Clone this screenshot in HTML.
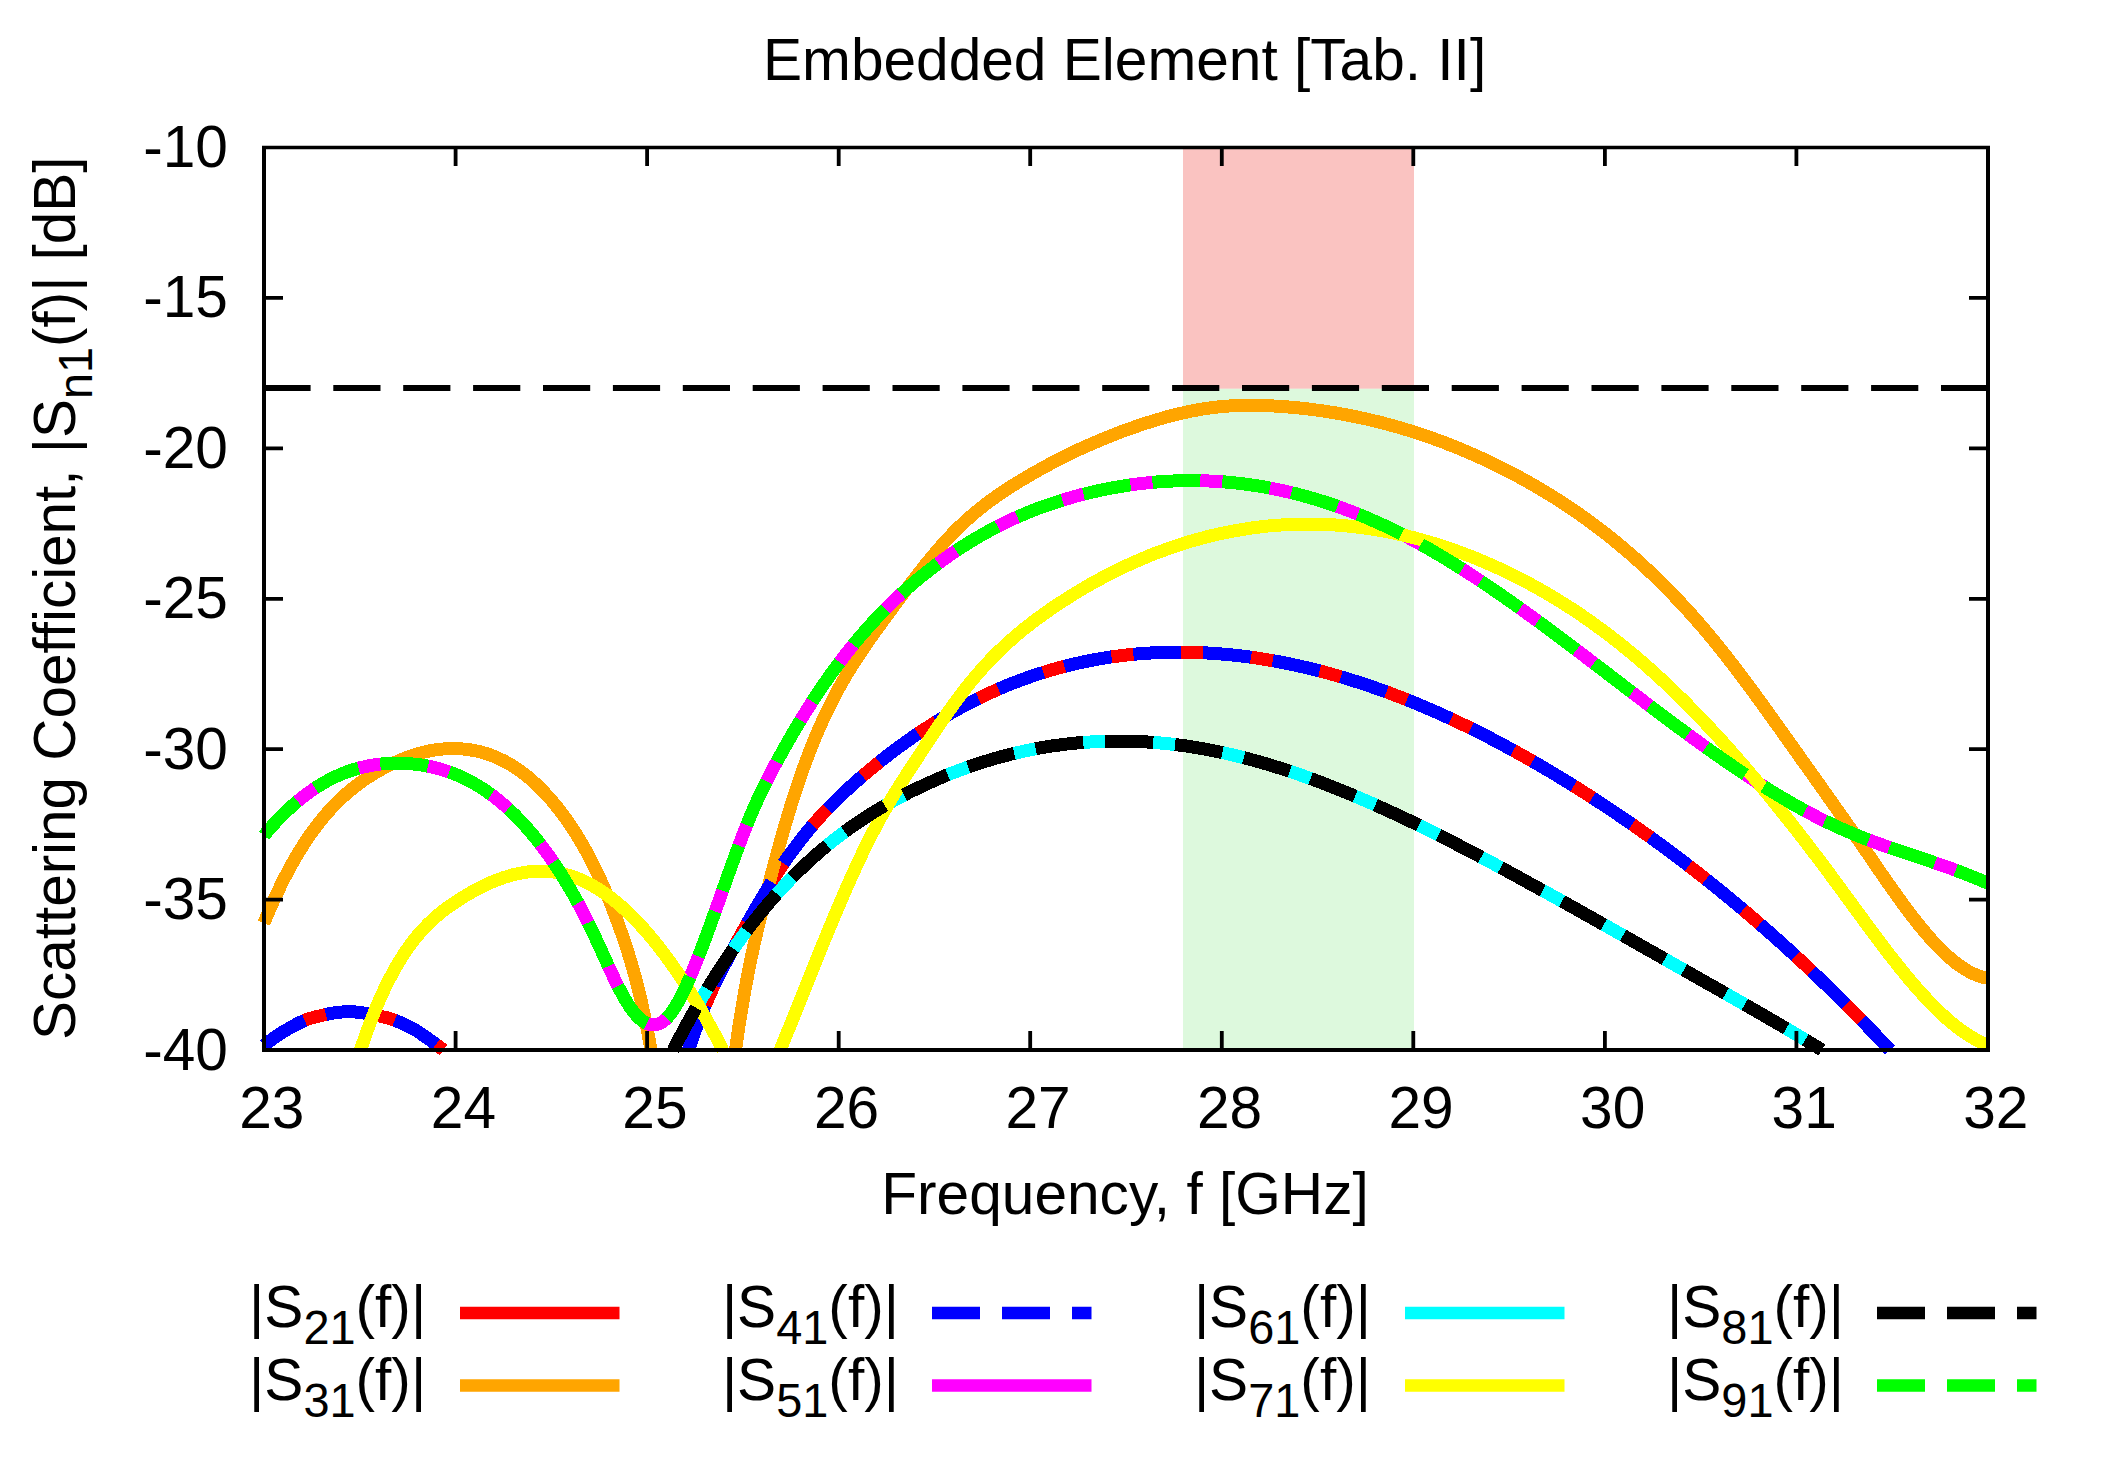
<!DOCTYPE html>
<html><head><meta charset="utf-8"><title>Embedded Element [Tab. II]</title>
<style>
html,body{margin:0;padding:0;background:#fff;}
svg{display:block}
text{font-family:"Liberation Sans",sans-serif;fill:#000;}
</style></head><body>
<svg width="2110" height="1463" viewBox="0 0 2110 1463">
<rect width="2110" height="1463" fill="#fff"/>

<rect x="1183" y="148" width="231" height="240.8" fill="#fac3c1"/>
<rect x="1183" y="388.8" width="231" height="661.2" fill="#ddf9dd"/>
<defs><clipPath id="plotclip"><rect x="258" y="140" width="1732" height="916"/></clipPath></defs>
<g fill="none" stroke-linejoin="round" shape-rendering="crispEdges" clip-path="url(#plotclip)">
<path d="M264.0,1045.5 L267.0,1043.1 L270.0,1040.8 L273.0,1038.6 L276.0,1036.5 L279.0,1034.4 L282.0,1032.5 L285.0,1030.7 L288.0,1029.0 L291.0,1027.3 L294.0,1025.6 L297.0,1024.0 L300.0,1022.5 L303.0,1021.1 L306.0,1019.8 L309.0,1018.7 L312.0,1017.9 L315.0,1017.1 L318.0,1016.3 L321.0,1015.6 L324.0,1014.9 L327.0,1014.2 L330.0,1013.6 L333.0,1013.1 L336.0,1012.6 L339.0,1012.3 L342.0,1012.0 L345.0,1011.8 L348.0,1011.7 L351.0,1011.7 L354.0,1011.9 L357.0,1012.1 L360.0,1012.5 L363.0,1012.9 L366.0,1013.4 L369.0,1013.9 L372.0,1014.5 L375.0,1015.1 L378.0,1015.7 L381.0,1016.4 L384.0,1017.1 L387.0,1017.8 L390.0,1018.7 L393.0,1019.6 L396.0,1020.8 L399.0,1022.0 L402.0,1023.3 L405.0,1024.6 L408.0,1026.1 L411.0,1027.6 L414.0,1029.2 L417.0,1031.0 L420.0,1033.0 L423.0,1035.1 L426.0,1037.2 L429.0,1039.3 L432.0,1041.4 L435.0,1043.6 L438.0,1045.8 L441.0,1048.1 L443.5,1050.0" stroke="#ff0000" stroke-width="13"/>
<path d="M688.5,1050.0 L691.5,1041.1 L694.5,1032.5 L697.5,1024.4 L700.5,1016.7 L703.5,1009.3 L706.5,1002.3 L709.5,995.5 L712.5,989.0 L715.5,982.7 L718.5,976.6 L721.5,970.7 L724.5,964.9 L727.5,959.3 L730.5,953.7 L733.5,948.2 L736.5,942.7 L739.5,937.3 L742.5,931.9 L745.5,926.5 L748.5,921.1 L751.5,915.8 L754.5,910.6 L757.5,905.4 L760.5,900.3 L763.5,895.2 L766.5,890.2 L769.5,885.3 L772.5,880.5 L775.5,875.7 L778.5,871.1 L781.5,866.5 L784.5,862.1 L787.5,857.7 L790.5,853.5 L793.5,849.4 L796.5,845.4 L799.5,841.4 L802.5,837.6 L805.5,833.9 L808.5,830.2 L811.5,826.6 L814.5,823.2 L817.5,819.8 L820.5,816.4 L823.5,813.2 L826.5,810.0 L829.5,806.9 L832.5,803.8 L835.5,800.8 L838.5,797.9 L841.5,795.0 L844.5,792.2 L847.5,789.4 L850.5,786.6 L853.5,783.9 L856.5,781.3 L859.5,778.6 L862.5,776.1 L865.5,773.5 L868.5,771.0 L871.5,768.5 L874.5,766.0 L877.5,763.6 L880.5,761.2 L883.5,758.8 L886.5,756.4 L889.5,754.1 L892.5,751.8 L895.5,749.6 L898.5,747.3 L901.5,745.1 L904.5,743.0 L907.5,740.8 L910.5,738.7 L913.5,736.6 L916.5,734.6 L919.5,732.6 L922.5,730.6 L925.5,728.6 L928.5,726.7 L931.5,724.7 L934.5,722.9 L937.5,721.0 L940.5,719.2 L943.5,717.4 L946.5,715.6 L949.5,713.9 L952.5,712.1 L955.5,710.4 L958.5,708.8 L961.5,707.1 L964.5,705.5 L967.5,703.9 L970.5,702.4 L973.5,700.9 L976.5,699.3 L979.5,697.9 L982.5,696.4 L985.5,695.0 L988.5,693.6 L991.5,692.2 L994.5,690.9 L997.5,689.5 L1000.5,688.2 L1003.5,687.0 L1006.5,685.7 L1009.5,684.5 L1012.5,683.3 L1015.5,682.1 L1018.5,681.0 L1021.5,679.9 L1024.5,678.8 L1027.5,677.7 L1030.5,676.6 L1033.5,675.6 L1036.5,674.6 L1039.5,673.6 L1042.5,672.7 L1045.5,671.7 L1048.5,670.8 L1051.5,669.9 L1054.5,669.1 L1057.5,668.2 L1060.5,667.4 L1063.5,666.6 L1066.5,665.8 L1069.5,665.1 L1072.5,664.4 L1075.5,663.7 L1078.5,663.0 L1081.5,662.3 L1084.5,661.7 L1087.5,661.1 L1090.5,660.5 L1093.5,659.9 L1096.5,659.4 L1099.5,658.8 L1102.5,658.3 L1105.5,657.8 L1108.5,657.4 L1111.5,656.9 L1114.5,656.5 L1117.5,656.1 L1120.5,655.7 L1123.5,655.3 L1126.5,655.0 L1129.5,654.7 L1132.5,654.4 L1135.5,654.1 L1138.5,653.8 L1141.5,653.6 L1144.5,653.4 L1147.5,653.2 L1150.5,653.0 L1153.5,652.8 L1156.5,652.7 L1159.5,652.5 L1162.5,652.4 L1165.5,652.3 L1168.5,652.3 L1171.5,652.2 L1174.5,652.2 L1177.5,652.2 L1180.5,652.2 L1183.5,652.2 L1186.5,652.2 L1189.5,652.3 L1192.5,652.4 L1195.5,652.5 L1198.5,652.6 L1201.5,652.7 L1204.5,652.8 L1207.5,653.0 L1210.5,653.2 L1213.5,653.4 L1216.5,653.6 L1219.5,653.8 L1222.5,654.1 L1225.5,654.3 L1228.5,654.6 L1231.5,654.9 L1234.5,655.2 L1237.5,655.5 L1240.5,655.9 L1243.5,656.3 L1246.5,656.6 L1249.5,657.0 L1252.5,657.5 L1255.5,657.9 L1258.5,658.3 L1261.5,658.8 L1264.5,659.3 L1267.5,659.8 L1270.5,660.3 L1273.5,660.8 L1276.5,661.4 L1279.5,661.9 L1282.5,662.5 L1285.5,663.1 L1288.5,663.7 L1291.5,664.3 L1294.5,665.0 L1297.5,665.6 L1300.5,666.3 L1303.5,667.0 L1306.5,667.7 L1309.5,668.4 L1312.5,669.1 L1315.5,669.9 L1318.5,670.7 L1321.5,671.4 L1324.5,672.2 L1327.5,673.0 L1330.5,673.9 L1333.5,674.7 L1336.5,675.6 L1339.5,676.4 L1342.5,677.3 L1345.5,678.2 L1348.5,679.1 L1351.5,680.1 L1354.5,681.0 L1357.5,682.0 L1360.5,682.9 L1363.5,683.9 L1366.5,684.9 L1369.5,685.9 L1372.5,687.0 L1375.5,688.0 L1378.5,689.1 L1381.5,690.1 L1384.5,691.2 L1387.5,692.3 L1390.5,693.4 L1393.5,694.6 L1396.5,695.7 L1399.5,696.9 L1402.5,698.1 L1405.5,699.2 L1408.5,700.4 L1411.5,701.6 L1414.5,702.9 L1417.5,704.1 L1420.5,705.4 L1423.5,706.6 L1426.5,707.9 L1429.5,709.2 L1432.5,710.5 L1435.5,711.8 L1438.5,713.2 L1441.5,714.5 L1444.5,715.9 L1447.5,717.2 L1450.5,718.6 L1453.5,720.0 L1456.5,721.4 L1459.5,722.8 L1462.5,724.3 L1465.5,725.7 L1468.5,727.2 L1471.5,728.7 L1474.5,730.1 L1477.5,731.6 L1480.5,733.1 L1483.5,734.7 L1486.5,736.2 L1489.5,737.7 L1492.5,739.3 L1495.5,740.9 L1498.5,742.5 L1501.5,744.1 L1504.5,745.7 L1507.5,747.3 L1510.5,748.9 L1513.5,750.5 L1516.5,752.2 L1519.5,753.9 L1522.5,755.5 L1525.5,757.2 L1528.5,758.9 L1531.5,760.6 L1534.5,762.4 L1537.5,764.1 L1540.5,765.8 L1543.5,767.6 L1546.5,769.4 L1549.5,771.1 L1552.5,772.9 L1555.5,774.7 L1558.5,776.5 L1561.5,778.4 L1564.5,780.2 L1567.5,782.0 L1570.5,783.9 L1573.5,785.8 L1576.5,787.6 L1579.5,789.5 L1582.5,791.4 L1585.5,793.3 L1588.5,795.2 L1591.5,797.2 L1594.5,799.1 L1597.5,801.1 L1600.5,803.0 L1603.5,805.0 L1606.5,807.0 L1609.5,809.0 L1612.5,811.0 L1615.5,813.0 L1618.5,815.0 L1621.5,817.1 L1624.5,819.1 L1627.5,821.2 L1630.5,823.3 L1633.5,825.3 L1636.5,827.4 L1639.5,829.5 L1642.5,831.7 L1645.5,833.8 L1648.5,835.9 L1651.5,838.1 L1654.5,840.3 L1657.5,842.4 L1660.5,844.6 L1663.5,846.8 L1666.5,849.0 L1669.5,851.3 L1672.5,853.5 L1675.5,855.8 L1678.5,858.0 L1681.5,860.3 L1684.5,862.6 L1687.5,864.9 L1690.5,867.2 L1693.5,869.5 L1696.5,871.8 L1699.5,874.2 L1702.5,876.5 L1705.5,878.9 L1708.5,881.3 L1711.5,883.7 L1714.5,886.1 L1717.5,888.5 L1720.5,891.0 L1723.5,893.4 L1726.5,895.9 L1729.5,898.3 L1732.5,900.8 L1735.5,903.3 L1738.5,905.8 L1741.5,908.3 L1744.5,910.9 L1747.5,913.4 L1750.5,916.0 L1753.5,918.6 L1756.5,921.2 L1759.5,923.8 L1762.5,926.4 L1765.5,929.0 L1768.5,931.6 L1771.5,934.3 L1774.5,936.9 L1777.5,939.6 L1780.5,942.3 L1783.5,945.0 L1786.5,947.7 L1789.5,950.5 L1792.5,953.2 L1795.5,956.0 L1798.5,958.7 L1801.5,961.5 L1804.5,964.3 L1807.5,967.1 L1810.5,970.0 L1813.5,972.8 L1816.5,975.7 L1819.5,978.5 L1822.5,981.4 L1825.5,984.3 L1828.5,987.2 L1831.5,990.1 L1834.5,993.1 L1837.5,996.0 L1840.5,999.0 L1843.5,1002.0 L1846.5,1005.0 L1849.5,1008.0 L1852.5,1011.0 L1855.5,1014.0 L1858.5,1017.1 L1861.5,1020.2 L1864.5,1023.2 L1867.5,1026.3 L1870.5,1029.4 L1873.5,1032.6 L1876.5,1035.7 L1879.5,1038.8 L1882.5,1042.0 L1885.5,1045.2 L1888.5,1048.4 L1890.0,1050.0" stroke="#ff0000" stroke-width="13"/>
<path d="M264.0,923.1 L267.0,915.8 L270.0,908.8 L273.0,902.0 L276.0,895.4 L279.0,889.1 L282.0,882.9 L285.0,877.0 L288.0,871.3 L291.0,865.7 L294.0,860.4 L297.0,855.2 L300.0,850.3 L303.0,845.5 L306.0,840.9 L309.0,836.4 L312.0,832.2 L315.0,828.1 L318.0,824.1 L321.0,820.3 L324.0,816.7 L327.0,813.2 L330.0,809.8 L333.0,806.6 L336.0,803.5 L339.0,800.5 L342.0,797.7 L345.0,794.9 L348.0,792.3 L351.0,789.8 L354.0,787.4 L357.0,785.1 L360.0,782.9 L363.0,780.7 L366.0,778.7 L369.0,776.7 L372.0,774.8 L375.0,773.0 L378.0,771.2 L381.0,769.5 L384.0,767.9 L387.0,766.3 L390.0,764.8 L393.0,763.3 L396.0,762.0 L399.0,760.6 L402.0,759.4 L405.0,758.2 L408.0,757.0 L411.0,756.0 L414.0,755.0 L417.0,754.0 L420.0,753.2 L423.0,752.4 L426.0,751.7 L429.0,751.0 L432.0,750.4 L435.0,749.9 L438.0,749.5 L441.0,749.2 L444.0,748.9 L447.0,748.7 L450.0,748.6 L453.0,748.5 L456.0,748.6 L459.0,748.7 L462.0,748.9 L465.0,749.2 L468.0,749.5 L471.0,750.0 L474.0,750.5 L477.0,751.1 L480.0,751.8 L483.0,752.6 L486.0,753.5 L489.0,754.5 L492.0,755.6 L495.0,756.8 L498.0,758.1 L501.0,759.5 L504.0,761.0 L507.0,762.6 L510.0,764.3 L513.0,766.1 L516.0,768.1 L519.0,770.1 L522.0,772.3 L525.0,774.6 L528.0,777.0 L531.0,779.6 L534.0,782.2 L537.0,785.0 L540.0,787.9 L543.0,791.0 L546.0,794.2 L549.0,797.5 L552.0,800.9 L555.0,804.5 L558.0,808.2 L561.0,812.1 L564.0,816.1 L567.0,820.3 L570.0,824.6 L573.0,829.1 L576.0,833.8 L579.0,838.7 L582.0,843.8 L585.0,849.1 L588.0,854.6 L591.0,860.3 L594.0,866.2 L597.0,872.4 L600.0,878.8 L603.0,885.5 L606.0,892.4 L609.0,899.6 L612.0,907.1 L615.0,914.9 L618.0,923.0 L621.0,931.4 L624.0,940.1 L627.0,949.2 L630.0,958.7 L633.0,968.9 L636.0,979.9 L639.0,991.7 L642.0,1004.5 L645.0,1018.4 L648.0,1033.5 L651.0,1050.0" stroke="#ffa500" stroke-width="13"/>
<path d="M735.5,1050.0 L738.5,1029.3 L741.5,1010.2 L744.5,992.6 L747.5,976.3 L750.5,961.2 L753.5,947.1 L756.5,933.8 L759.5,921.2 L762.5,909.1 L765.5,897.3 L768.5,885.7 L771.5,874.2 L774.5,863.0 L777.5,851.9 L780.5,841.1 L783.5,830.6 L786.5,820.3 L789.5,810.3 L792.5,800.6 L795.5,791.2 L798.5,782.2 L801.5,773.5 L804.5,765.2 L807.5,757.1 L810.5,749.3 L813.5,741.8 L816.5,734.6 L819.5,727.6 L822.5,720.9 L825.5,714.5 L828.5,708.2 L831.5,702.2 L834.5,696.4 L837.5,690.7 L840.5,685.3 L843.5,680.0 L846.5,674.9 L849.5,669.9 L852.5,665.1 L855.5,660.4 L858.5,655.8 L861.5,651.3 L864.5,646.9 L867.5,642.5 L870.5,638.3 L873.5,634.1 L876.5,629.9 L879.5,625.8 L882.5,621.7 L885.5,617.6 L888.5,613.5 L891.5,609.4 L894.5,605.3 L897.5,601.3 L900.5,597.2 L903.5,593.2 L906.5,589.2 L909.5,585.2 L912.5,581.3 L915.5,577.4 L918.5,573.5 L921.5,569.7 L924.5,565.9 L927.5,562.2 L930.5,558.5 L933.5,554.9 L936.5,551.4 L939.5,547.9 L942.5,544.5 L945.5,541.1 L948.5,537.9 L951.5,534.7 L954.5,531.6 L957.5,528.7 L960.5,525.7 L963.5,522.9 L966.5,520.2 L969.5,517.5 L972.5,514.9 L975.5,512.3 L978.5,509.9 L981.5,507.5 L984.5,505.1 L987.5,502.8 L990.5,500.6 L993.5,498.4 L996.5,496.3 L999.5,494.2 L1002.5,492.2 L1005.5,490.2 L1008.5,488.2 L1011.5,486.3 L1014.5,484.4 L1017.5,482.6 L1020.5,480.7 L1023.5,478.9 L1026.5,477.2 L1029.5,475.4 L1032.5,473.7 L1035.5,472.0 L1038.5,470.3 L1041.5,468.6 L1044.5,467.0 L1047.5,465.3 L1050.5,463.7 L1053.5,462.1 L1056.5,460.6 L1059.5,459.0 L1062.5,457.5 L1065.5,456.0 L1068.5,454.6 L1071.5,453.1 L1074.5,451.7 L1077.5,450.2 L1080.5,448.8 L1083.5,447.5 L1086.5,446.1 L1089.5,444.8 L1092.5,443.5 L1095.5,442.2 L1098.5,440.9 L1101.5,439.6 L1104.5,438.4 L1107.5,437.2 L1110.5,436.0 L1113.5,434.8 L1116.5,433.6 L1119.5,432.5 L1122.5,431.3 L1125.5,430.2 L1128.5,429.1 L1131.5,428.1 L1134.5,427.0 L1137.5,426.0 L1140.5,424.9 L1143.5,423.9 L1146.5,423.0 L1149.5,422.0 L1152.5,421.1 L1155.5,420.1 L1158.5,419.3 L1161.5,418.4 L1164.5,417.5 L1167.5,416.7 L1170.5,415.9 L1173.5,415.1 L1176.5,414.4 L1179.5,413.7 L1182.5,413.0 L1185.5,412.3 L1188.5,411.7 L1191.5,411.0 L1194.5,410.5 L1197.5,409.9 L1200.5,409.4 L1203.5,408.9 L1206.5,408.4 L1209.5,408.0 L1212.5,407.6 L1215.5,407.2 L1218.5,406.9 L1221.5,406.6 L1224.5,406.3 L1227.5,406.1 L1230.5,405.9 L1233.5,405.7 L1236.5,405.6 L1239.5,405.5 L1242.5,405.4 L1245.5,405.3 L1248.5,405.3 L1251.5,405.3 L1254.5,405.3 L1257.5,405.3 L1260.5,405.4 L1263.5,405.5 L1266.5,405.6 L1269.5,405.7 L1272.5,405.9 L1275.5,406.1 L1278.5,406.2 L1281.5,406.5 L1284.5,406.7 L1287.5,406.9 L1290.5,407.2 L1293.5,407.4 L1296.5,407.7 L1299.5,408.0 L1302.5,408.4 L1305.5,408.7 L1308.5,409.0 L1311.5,409.4 L1314.5,409.8 L1317.5,410.2 L1320.5,410.6 L1323.5,411.0 L1326.5,411.5 L1329.5,412.0 L1332.5,412.4 L1335.5,412.9 L1338.5,413.5 L1341.5,414.0 L1344.5,414.5 L1347.5,415.1 L1350.5,415.7 L1353.5,416.3 L1356.5,416.9 L1359.5,417.5 L1362.5,418.2 L1365.5,418.8 L1368.5,419.5 L1371.5,420.2 L1374.5,421.0 L1377.5,421.7 L1380.5,422.4 L1383.5,423.2 L1386.5,424.0 L1389.5,424.8 L1392.5,425.6 L1395.5,426.5 L1398.5,427.3 L1401.5,428.2 L1404.5,429.1 L1407.5,430.0 L1410.5,430.9 L1413.5,431.9 L1416.5,432.8 L1419.5,433.8 L1422.5,434.8 L1425.5,435.8 L1428.5,436.9 L1431.5,437.9 L1434.5,439.0 L1437.5,440.1 L1440.5,441.2 L1443.5,442.3 L1446.5,443.5 L1449.5,444.7 L1452.5,445.8 L1455.5,447.1 L1458.5,448.3 L1461.5,449.5 L1464.5,450.8 L1467.5,452.1 L1470.5,453.4 L1473.5,454.7 L1476.5,456.0 L1479.5,457.4 L1482.5,458.7 L1485.5,460.1 L1488.5,461.5 L1491.5,463.0 L1494.5,464.4 L1497.5,465.9 L1500.5,467.4 L1503.5,468.9 L1506.5,470.4 L1509.5,472.0 L1512.5,473.5 L1515.5,475.1 L1518.5,476.7 L1521.5,478.4 L1524.5,480.0 L1527.5,481.7 L1530.5,483.4 L1533.5,485.1 L1536.5,486.8 L1539.5,488.6 L1542.5,490.4 L1545.5,492.2 L1548.5,494.0 L1551.5,495.9 L1554.5,497.7 L1557.5,499.6 L1560.5,501.5 L1563.5,503.5 L1566.5,505.5 L1569.5,507.5 L1572.5,509.5 L1575.5,511.5 L1578.5,513.6 L1581.5,515.7 L1584.5,517.9 L1587.5,520.0 L1590.5,522.2 L1593.5,524.4 L1596.5,526.7 L1599.5,528.9 L1602.5,531.2 L1605.5,533.6 L1608.5,535.9 L1611.5,538.3 L1614.5,540.8 L1617.5,543.2 L1620.5,545.7 L1623.5,548.2 L1626.5,550.8 L1629.5,553.3 L1632.5,556.0 L1635.5,558.6 L1638.5,561.3 L1641.5,564.0 L1644.5,566.8 L1647.5,569.6 L1650.5,572.4 L1653.5,575.2 L1656.5,578.1 L1659.5,581.1 L1662.5,584.0 L1665.5,587.0 L1668.5,590.1 L1671.5,593.1 L1674.5,596.3 L1677.5,599.4 L1680.5,602.6 L1683.5,605.8 L1686.5,609.1 L1689.5,612.4 L1692.5,615.7 L1695.5,619.1 L1698.5,622.6 L1701.5,626.0 L1704.5,629.5 L1707.5,633.1 L1710.5,636.7 L1713.5,640.3 L1716.5,644.0 L1719.5,647.7 L1722.5,651.5 L1725.5,655.3 L1728.5,659.1 L1731.5,663.0 L1734.5,666.9 L1737.5,670.8 L1740.5,674.8 L1743.5,678.8 L1746.5,682.8 L1749.5,686.9 L1752.5,690.9 L1755.5,695.0 L1758.5,699.1 L1761.5,703.3 L1764.5,707.4 L1767.5,711.6 L1770.5,715.7 L1773.5,719.9 L1776.5,724.1 L1779.5,728.3 L1782.5,732.5 L1785.5,736.8 L1788.5,741.0 L1791.5,745.2 L1794.5,749.4 L1797.5,753.6 L1800.5,757.9 L1803.5,762.1 L1806.5,766.3 L1809.5,770.5 L1812.5,774.7 L1815.5,779.0 L1818.5,783.2 L1821.5,787.4 L1824.5,791.7 L1827.5,795.9 L1830.5,800.2 L1833.5,804.4 L1836.5,808.7 L1839.5,813.0 L1842.5,817.2 L1845.5,821.5 L1848.5,825.8 L1851.5,830.1 L1854.5,834.4 L1857.5,838.8 L1860.5,843.1 L1863.5,847.4 L1866.5,851.8 L1869.5,856.2 L1872.5,860.6 L1875.5,864.9 L1878.5,869.3 L1881.5,873.7 L1884.5,878.0 L1887.5,882.3 L1890.5,886.6 L1893.5,890.8 L1896.5,895.1 L1899.5,899.2 L1902.5,903.4 L1905.5,907.4 L1908.5,911.4 L1911.5,915.4 L1914.5,919.3 L1917.5,923.1 L1920.5,926.8 L1923.5,930.4 L1926.5,934.0 L1929.5,937.4 L1932.5,940.8 L1935.5,944.0 L1938.5,947.2 L1941.5,950.2 L1944.5,953.1 L1947.5,955.8 L1950.5,958.5 L1953.5,961.0 L1956.5,963.4 L1959.5,965.6 L1962.5,967.6 L1965.5,969.5 L1968.5,971.3 L1971.5,972.9 L1974.5,974.3 L1977.5,975.5 L1980.5,976.5 L1983.5,977.4 L1986.5,978.0 L1988.0,978.3" stroke="#ffa500" stroke-width="13"/>
<path d="M264.0,1045.5 L267.0,1043.1 L270.0,1040.8 L273.0,1038.6 L276.0,1036.5 L279.0,1034.4 L282.0,1032.5 L285.0,1030.7 L288.0,1029.0 L291.0,1027.3 L294.0,1025.6 L297.0,1024.0 L300.0,1022.5 L303.0,1021.1 L306.0,1019.8 L309.0,1018.7 L312.0,1017.9 L315.0,1017.1 L318.0,1016.3 L321.0,1015.6 L324.0,1014.9 L327.0,1014.2 L330.0,1013.6 L333.0,1013.1 L336.0,1012.6 L339.0,1012.3 L342.0,1012.0 L345.0,1011.8 L348.0,1011.7 L351.0,1011.7 L354.0,1011.9 L357.0,1012.1 L360.0,1012.5 L363.0,1012.9 L366.0,1013.4 L369.0,1013.9 L372.0,1014.5 L375.0,1015.1 L378.0,1015.7 L381.0,1016.4 L384.0,1017.1 L387.0,1017.8 L390.0,1018.7 L393.0,1019.6 L396.0,1020.8 L399.0,1022.0 L402.0,1023.3 L405.0,1024.6 L408.0,1026.1 L411.0,1027.6 L414.0,1029.2 L417.0,1031.0 L420.0,1033.0 L423.0,1035.1 L426.0,1037.2 L429.0,1039.3 L432.0,1041.4 L435.0,1043.6 L438.0,1045.8 L441.0,1048.1 L443.5,1050.0" stroke="#0000ff" stroke-width="13" stroke-dasharray="48 22"/>
<path d="M688.5,1050.0 L691.5,1041.1 L694.5,1032.5 L697.5,1024.4 L700.5,1016.7 L703.5,1009.3 L706.5,1002.3 L709.5,995.5 L712.5,989.0 L715.5,982.7 L718.5,976.6 L721.5,970.7 L724.5,964.9 L727.5,959.3 L730.5,953.7 L733.5,948.2 L736.5,942.7 L739.5,937.3 L742.5,931.9 L745.5,926.5 L748.5,921.1 L751.5,915.8 L754.5,910.6 L757.5,905.4 L760.5,900.3 L763.5,895.2 L766.5,890.2 L769.5,885.3 L772.5,880.5 L775.5,875.7 L778.5,871.1 L781.5,866.5 L784.5,862.1 L787.5,857.7 L790.5,853.5 L793.5,849.4 L796.5,845.4 L799.5,841.4 L802.5,837.6 L805.5,833.9 L808.5,830.2 L811.5,826.6 L814.5,823.2 L817.5,819.8 L820.5,816.4 L823.5,813.2 L826.5,810.0 L829.5,806.9 L832.5,803.8 L835.5,800.8 L838.5,797.9 L841.5,795.0 L844.5,792.2 L847.5,789.4 L850.5,786.6 L853.5,783.9 L856.5,781.3 L859.5,778.6 L862.5,776.1 L865.5,773.5 L868.5,771.0 L871.5,768.5 L874.5,766.0 L877.5,763.6 L880.5,761.2 L883.5,758.8 L886.5,756.4 L889.5,754.1 L892.5,751.8 L895.5,749.6 L898.5,747.3 L901.5,745.1 L904.5,743.0 L907.5,740.8 L910.5,738.7 L913.5,736.6 L916.5,734.6 L919.5,732.6 L922.5,730.6 L925.5,728.6 L928.5,726.7 L931.5,724.7 L934.5,722.9 L937.5,721.0 L940.5,719.2 L943.5,717.4 L946.5,715.6 L949.5,713.9 L952.5,712.1 L955.5,710.4 L958.5,708.8 L961.5,707.1 L964.5,705.5 L967.5,703.9 L970.5,702.4 L973.5,700.9 L976.5,699.3 L979.5,697.9 L982.5,696.4 L985.5,695.0 L988.5,693.6 L991.5,692.2 L994.5,690.9 L997.5,689.5 L1000.5,688.2 L1003.5,687.0 L1006.5,685.7 L1009.5,684.5 L1012.5,683.3 L1015.5,682.1 L1018.5,681.0 L1021.5,679.9 L1024.5,678.8 L1027.5,677.7 L1030.5,676.6 L1033.5,675.6 L1036.5,674.6 L1039.5,673.6 L1042.5,672.7 L1045.5,671.7 L1048.5,670.8 L1051.5,669.9 L1054.5,669.1 L1057.5,668.2 L1060.5,667.4 L1063.5,666.6 L1066.5,665.8 L1069.5,665.1 L1072.5,664.4 L1075.5,663.7 L1078.5,663.0 L1081.5,662.3 L1084.5,661.7 L1087.5,661.1 L1090.5,660.5 L1093.5,659.9 L1096.5,659.4 L1099.5,658.8 L1102.5,658.3 L1105.5,657.8 L1108.5,657.4 L1111.5,656.9 L1114.5,656.5 L1117.5,656.1 L1120.5,655.7 L1123.5,655.3 L1126.5,655.0 L1129.5,654.7 L1132.5,654.4 L1135.5,654.1 L1138.5,653.8 L1141.5,653.6 L1144.5,653.4 L1147.5,653.2 L1150.5,653.0 L1153.5,652.8 L1156.5,652.7 L1159.5,652.5 L1162.5,652.4 L1165.5,652.3 L1168.5,652.3 L1171.5,652.2 L1174.5,652.2 L1177.5,652.2 L1180.5,652.2 L1183.5,652.2 L1186.5,652.2 L1189.5,652.3 L1192.5,652.4 L1195.5,652.5 L1198.5,652.6 L1201.5,652.7 L1204.5,652.8 L1207.5,653.0 L1210.5,653.2 L1213.5,653.4 L1216.5,653.6 L1219.5,653.8 L1222.5,654.1 L1225.5,654.3 L1228.5,654.6 L1231.5,654.9 L1234.5,655.2 L1237.5,655.5 L1240.5,655.9 L1243.5,656.3 L1246.5,656.6 L1249.5,657.0 L1252.5,657.5 L1255.5,657.9 L1258.5,658.3 L1261.5,658.8 L1264.5,659.3 L1267.5,659.8 L1270.5,660.3 L1273.5,660.8 L1276.5,661.4 L1279.5,661.9 L1282.5,662.5 L1285.5,663.1 L1288.5,663.7 L1291.5,664.3 L1294.5,665.0 L1297.5,665.6 L1300.5,666.3 L1303.5,667.0 L1306.5,667.7 L1309.5,668.4 L1312.5,669.1 L1315.5,669.9 L1318.5,670.7 L1321.5,671.4 L1324.5,672.2 L1327.5,673.0 L1330.5,673.9 L1333.5,674.7 L1336.5,675.6 L1339.5,676.4 L1342.5,677.3 L1345.5,678.2 L1348.5,679.1 L1351.5,680.1 L1354.5,681.0 L1357.5,682.0 L1360.5,682.9 L1363.5,683.9 L1366.5,684.9 L1369.5,685.9 L1372.5,687.0 L1375.5,688.0 L1378.5,689.1 L1381.5,690.1 L1384.5,691.2 L1387.5,692.3 L1390.5,693.4 L1393.5,694.6 L1396.5,695.7 L1399.5,696.9 L1402.5,698.1 L1405.5,699.2 L1408.5,700.4 L1411.5,701.6 L1414.5,702.9 L1417.5,704.1 L1420.5,705.4 L1423.5,706.6 L1426.5,707.9 L1429.5,709.2 L1432.5,710.5 L1435.5,711.8 L1438.5,713.2 L1441.5,714.5 L1444.5,715.9 L1447.5,717.2 L1450.5,718.6 L1453.5,720.0 L1456.5,721.4 L1459.5,722.8 L1462.5,724.3 L1465.5,725.7 L1468.5,727.2 L1471.5,728.7 L1474.5,730.1 L1477.5,731.6 L1480.5,733.1 L1483.5,734.7 L1486.5,736.2 L1489.5,737.7 L1492.5,739.3 L1495.5,740.9 L1498.5,742.5 L1501.5,744.1 L1504.5,745.7 L1507.5,747.3 L1510.5,748.9 L1513.5,750.5 L1516.5,752.2 L1519.5,753.9 L1522.5,755.5 L1525.5,757.2 L1528.5,758.9 L1531.5,760.6 L1534.5,762.4 L1537.5,764.1 L1540.5,765.8 L1543.5,767.6 L1546.5,769.4 L1549.5,771.1 L1552.5,772.9 L1555.5,774.7 L1558.5,776.5 L1561.5,778.4 L1564.5,780.2 L1567.5,782.0 L1570.5,783.9 L1573.5,785.8 L1576.5,787.6 L1579.5,789.5 L1582.5,791.4 L1585.5,793.3 L1588.5,795.2 L1591.5,797.2 L1594.5,799.1 L1597.5,801.1 L1600.5,803.0 L1603.5,805.0 L1606.5,807.0 L1609.5,809.0 L1612.5,811.0 L1615.5,813.0 L1618.5,815.0 L1621.5,817.1 L1624.5,819.1 L1627.5,821.2 L1630.5,823.3 L1633.5,825.3 L1636.5,827.4 L1639.5,829.5 L1642.5,831.7 L1645.5,833.8 L1648.5,835.9 L1651.5,838.1 L1654.5,840.3 L1657.5,842.4 L1660.5,844.6 L1663.5,846.8 L1666.5,849.0 L1669.5,851.3 L1672.5,853.5 L1675.5,855.8 L1678.5,858.0 L1681.5,860.3 L1684.5,862.6 L1687.5,864.9 L1690.5,867.2 L1693.5,869.5 L1696.5,871.8 L1699.5,874.2 L1702.5,876.5 L1705.5,878.9 L1708.5,881.3 L1711.5,883.7 L1714.5,886.1 L1717.5,888.5 L1720.5,891.0 L1723.5,893.4 L1726.5,895.9 L1729.5,898.3 L1732.5,900.8 L1735.5,903.3 L1738.5,905.8 L1741.5,908.3 L1744.5,910.9 L1747.5,913.4 L1750.5,916.0 L1753.5,918.6 L1756.5,921.2 L1759.5,923.8 L1762.5,926.4 L1765.5,929.0 L1768.5,931.6 L1771.5,934.3 L1774.5,936.9 L1777.5,939.6 L1780.5,942.3 L1783.5,945.0 L1786.5,947.7 L1789.5,950.5 L1792.5,953.2 L1795.5,956.0 L1798.5,958.7 L1801.5,961.5 L1804.5,964.3 L1807.5,967.1 L1810.5,970.0 L1813.5,972.8 L1816.5,975.7 L1819.5,978.5 L1822.5,981.4 L1825.5,984.3 L1828.5,987.2 L1831.5,990.1 L1834.5,993.1 L1837.5,996.0 L1840.5,999.0 L1843.5,1002.0 L1846.5,1005.0 L1849.5,1008.0 L1852.5,1011.0 L1855.5,1014.0 L1858.5,1017.1 L1861.5,1020.2 L1864.5,1023.2 L1867.5,1026.3 L1870.5,1029.4 L1873.5,1032.6 L1876.5,1035.7 L1879.5,1038.8 L1882.5,1042.0 L1885.5,1045.2 L1888.5,1048.4 L1890.0,1050.0" stroke="#0000ff" stroke-width="13" stroke-dasharray="48 22"/>
<path d="M264.0,835.5 L267.0,831.9 L270.0,828.4 L273.0,825.1 L276.0,821.8 L279.0,818.6 L282.0,815.6 L285.0,812.6 L288.0,809.8 L291.0,807.0 L294.0,804.3 L297.0,801.8 L300.0,799.3 L303.0,796.9 L306.0,794.6 L309.0,792.4 L312.0,790.3 L315.0,788.3 L318.0,786.3 L321.0,784.5 L324.0,782.7 L327.0,781.0 L330.0,779.4 L333.0,777.9 L336.0,776.5 L339.0,775.1 L342.0,773.9 L345.0,772.7 L348.0,771.5 L351.0,770.5 L354.0,769.5 L357.0,768.6 L360.0,767.8 L363.0,767.1 L366.0,766.4 L369.0,765.8 L372.0,765.2 L375.0,764.7 L378.0,764.3 L381.0,764.0 L384.0,763.7 L387.0,763.5 L390.0,763.3 L393.0,763.2 L396.0,763.2 L399.0,763.2 L402.0,763.2 L405.0,763.4 L408.0,763.5 L411.0,763.8 L414.0,764.1 L417.0,764.4 L420.0,764.8 L423.0,765.3 L426.0,765.8 L429.0,766.4 L432.0,767.0 L435.0,767.7 L438.0,768.5 L441.0,769.3 L444.0,770.2 L447.0,771.2 L450.0,772.3 L453.0,773.4 L456.0,774.6 L459.0,775.9 L462.0,777.2 L465.0,778.7 L468.0,780.2 L471.0,781.7 L474.0,783.4 L477.0,785.2 L480.0,787.0 L483.0,788.9 L486.0,790.9 L489.0,793.1 L492.0,795.2 L495.0,797.5 L498.0,799.9 L501.0,802.4 L504.0,804.9 L507.0,807.6 L510.0,810.4 L513.0,813.2 L516.0,816.2 L519.0,819.3 L522.0,822.4 L525.0,825.7 L528.0,829.1 L531.0,832.6 L534.0,836.2 L537.0,839.9 L540.0,843.7 L543.0,847.7 L546.0,851.7 L549.0,855.9 L552.0,860.2 L555.0,864.7 L558.0,869.2 L561.0,873.9 L564.0,878.7 L567.0,883.7 L570.0,888.7 L573.0,894.0 L576.0,899.3 L579.0,904.8 L582.0,910.5 L585.0,916.3 L588.0,922.3 L591.0,928.4 L594.0,934.7 L597.0,941.1 L600.0,947.6 L603.0,954.2 L606.0,960.8 L609.0,967.4 L612.0,973.8 L615.0,980.1 L618.0,986.1 L621.0,991.9 L624.0,997.4 L627.0,1002.4 L630.0,1007.1 L633.0,1011.2 L636.0,1014.8 L639.0,1018.0 L642.0,1020.5 L645.0,1022.5 L648.0,1024.0 L651.0,1024.8 L654.0,1025.0 L657.0,1024.5 L660.0,1023.4 L663.0,1021.6 L666.0,1019.0 L669.0,1015.8 L672.0,1011.9 L675.0,1007.3 L678.0,1002.2 L681.0,996.6 L684.0,990.5 L687.0,984.0 L690.0,977.2 L693.0,970.1 L696.0,962.7 L699.0,955.2 L702.0,947.4 L705.0,939.4 L708.0,931.3 L711.0,923.0 L714.0,914.7 L717.0,906.3 L720.0,897.9 L723.0,889.4 L726.0,881.0 L729.0,872.6 L732.0,864.2 L735.0,856.0 L738.0,847.9 L741.0,839.9 L744.0,832.1 L747.0,824.5 L750.0,817.2 L753.0,810.0 L756.0,803.2 L759.0,796.6 L762.0,790.3 L765.0,784.2 L768.0,778.2 L771.0,772.5 L774.0,766.8 L777.0,761.3 L780.0,755.9 L783.0,750.5 L786.0,745.2 L789.0,739.9 L792.0,734.7 L795.0,729.6 L798.0,724.6 L801.0,719.6 L804.0,714.7 L807.0,709.8 L810.0,705.1 L813.0,700.4 L816.0,695.8 L819.0,691.3 L822.0,686.8 L825.0,682.5 L828.0,678.2 L831.0,673.9 L834.0,669.8 L837.0,665.7 L840.0,661.7 L843.0,657.8 L846.0,653.9 L849.0,650.1 L852.0,646.4 L855.0,642.7 L858.0,639.1 L861.0,635.6 L864.0,632.1 L867.0,628.7 L870.0,625.4 L873.0,622.1 L876.0,618.8 L879.0,615.7 L882.0,612.6 L885.0,609.5 L888.0,606.5 L891.0,603.5 L894.0,600.6 L897.0,597.8 L900.0,595.0 L903.0,592.3 L906.0,589.6 L909.0,586.9 L912.0,584.3 L915.0,581.7 L918.0,579.2 L921.0,576.8 L924.0,574.3 L927.0,572.0 L930.0,569.6 L933.0,567.3 L936.0,565.0 L939.0,562.8 L942.0,560.6 L945.0,558.5 L948.0,556.3 L951.0,554.3 L954.0,552.2 L957.0,550.2 L960.0,548.3 L963.0,546.3 L966.0,544.4 L969.0,542.6 L972.0,540.7 L975.0,538.9 L978.0,537.2 L981.0,535.4 L984.0,533.7 L987.0,532.1 L990.0,530.4 L993.0,528.8 L996.0,527.3 L999.0,525.7 L1002.0,524.2 L1005.0,522.8 L1008.0,521.3 L1011.0,519.9 L1014.0,518.5 L1017.0,517.2 L1020.0,515.9 L1023.0,514.6 L1026.0,513.3 L1029.0,512.1 L1032.0,510.9 L1035.0,509.7 L1038.0,508.5 L1041.0,507.4 L1044.0,506.3 L1047.0,505.2 L1050.0,504.2 L1053.0,503.2 L1056.0,502.2 L1059.0,501.2 L1062.0,500.3 L1065.0,499.4 L1068.0,498.5 L1071.0,497.6 L1074.0,496.7 L1077.0,495.9 L1080.0,495.1 L1083.0,494.3 L1086.0,493.6 L1089.0,492.9 L1092.0,492.1 L1095.0,491.5 L1098.0,490.8 L1101.0,490.1 L1104.0,489.5 L1107.0,488.9 L1110.0,488.3 L1113.0,487.8 L1116.0,487.2 L1119.0,486.7 L1122.0,486.2 L1125.0,485.7 L1128.0,485.3 L1131.0,484.8 L1134.0,484.4 L1137.0,484.0 L1140.0,483.6 L1143.0,483.3 L1146.0,483.0 L1149.0,482.7 L1152.0,482.4 L1155.0,482.1 L1158.0,481.9 L1161.0,481.6 L1164.0,481.4 L1167.0,481.3 L1170.0,481.1 L1173.0,481.0 L1176.0,480.8 L1179.0,480.7 L1182.0,480.7 L1185.0,480.6 L1188.0,480.6 L1191.0,480.6 L1194.0,480.6 L1197.0,480.6 L1200.0,480.7 L1203.0,480.8 L1206.0,480.9 L1209.0,481.0 L1212.0,481.1 L1215.0,481.3 L1218.0,481.5 L1221.0,481.7 L1224.0,481.9 L1227.0,482.1 L1230.0,482.4 L1233.0,482.7 L1236.0,483.0 L1239.0,483.3 L1242.0,483.7 L1245.0,484.1 L1248.0,484.5 L1251.0,484.9 L1254.0,485.3 L1257.0,485.8 L1260.0,486.3 L1263.0,486.8 L1266.0,487.3 L1269.0,487.9 L1272.0,488.5 L1275.0,489.1 L1278.0,489.7 L1281.0,490.3 L1284.0,491.0 L1287.0,491.6 L1290.0,492.4 L1293.0,493.1 L1296.0,493.8 L1299.0,494.6 L1302.0,495.4 L1305.0,496.2 L1308.0,497.0 L1311.0,497.9 L1314.0,498.8 L1317.0,499.7 L1320.0,500.6 L1323.0,501.5 L1326.0,502.5 L1329.0,503.5 L1332.0,504.5 L1335.0,505.5 L1338.0,506.6 L1341.0,507.7 L1344.0,508.8 L1347.0,509.9 L1350.0,511.0 L1353.0,512.2 L1356.0,513.4 L1359.0,514.6 L1362.0,515.8 L1365.0,517.1 L1368.0,518.3 L1371.0,519.6 L1374.0,521.0 L1377.0,522.3 L1380.0,523.7 L1383.0,525.0 L1386.0,526.4 L1389.0,527.9 L1392.0,529.3 L1395.0,530.8 L1398.0,532.3 L1401.0,533.8 L1404.0,535.4 L1407.0,536.9 L1410.0,538.5 L1413.0,540.1 L1416.0,541.7 L1419.0,543.4 L1422.0,545.0 L1425.0,546.7 L1428.0,548.4 L1431.0,550.1 L1434.0,551.9 L1437.0,553.6 L1440.0,555.4 L1443.0,557.2 L1446.0,559.0 L1449.0,560.8 L1452.0,562.7 L1455.0,564.5 L1458.0,566.4 L1461.0,568.3 L1464.0,570.2 L1467.0,572.1 L1470.0,574.1 L1473.0,576.0 L1476.0,578.0 L1479.0,580.0 L1482.0,582.0 L1485.0,584.0 L1488.0,586.0 L1491.0,588.0 L1494.0,590.1 L1497.0,592.1 L1500.0,594.2 L1503.0,596.3 L1506.0,598.4 L1509.0,600.5 L1512.0,602.6 L1515.0,604.7 L1518.0,606.8 L1521.0,609.0 L1524.0,611.1 L1527.0,613.3 L1530.0,615.5 L1533.0,617.7 L1536.0,619.8 L1539.0,622.0 L1542.0,624.2 L1545.0,626.5 L1548.0,628.7 L1551.0,630.9 L1554.0,633.1 L1557.0,635.4 L1560.0,637.6 L1563.0,639.9 L1566.0,642.1 L1569.0,644.4 L1572.0,646.6 L1575.0,648.9 L1578.0,651.2 L1581.0,653.4 L1584.0,655.7 L1587.0,658.0 L1590.0,660.3 L1593.0,662.6 L1596.0,664.9 L1599.0,667.1 L1602.0,669.4 L1605.0,671.7 L1608.0,674.0 L1611.0,676.3 L1614.0,678.6 L1617.0,680.9 L1620.0,683.2 L1623.0,685.5 L1626.0,687.8 L1629.0,690.1 L1632.0,692.4 L1635.0,694.6 L1638.0,696.9 L1641.0,699.2 L1644.0,701.5 L1647.0,703.8 L1650.0,706.0 L1653.0,708.3 L1656.0,710.6 L1659.0,712.8 L1662.0,715.1 L1665.0,717.3 L1668.0,719.6 L1671.0,721.8 L1674.0,724.1 L1677.0,726.3 L1680.0,728.5 L1683.0,730.7 L1686.0,732.9 L1689.0,735.1 L1692.0,737.3 L1695.0,739.5 L1698.0,741.7 L1701.0,743.8 L1704.0,746.0 L1707.0,748.1 L1710.0,750.3 L1713.0,752.4 L1716.0,754.5 L1719.0,756.6 L1722.0,758.7 L1725.0,760.8 L1728.0,762.9 L1731.0,764.9 L1734.0,767.0 L1737.0,769.0 L1740.0,771.0 L1743.0,773.0 L1746.0,775.0 L1749.0,777.0 L1752.0,778.9 L1755.0,780.9 L1758.0,782.8 L1761.0,784.7 L1764.0,786.6 L1767.0,788.5 L1770.0,790.4 L1773.0,792.2 L1776.0,794.0 L1779.0,795.8 L1782.0,797.6 L1785.0,799.4 L1788.0,801.1 L1791.0,802.9 L1794.0,804.6 L1797.0,806.3 L1800.0,808.0 L1803.0,809.6 L1806.0,811.2 L1809.0,812.9 L1812.0,814.4 L1815.0,816.0 L1818.0,817.6 L1821.0,819.1 L1824.0,820.6 L1827.0,822.0 L1830.0,823.5 L1833.0,824.9 L1836.0,826.3 L1839.0,827.7 L1842.0,829.0 L1845.0,830.4 L1848.0,831.7 L1851.0,832.9 L1854.0,834.2 L1857.0,835.4 L1860.0,836.6 L1863.0,837.8 L1866.0,839.0 L1869.0,840.1 L1872.0,841.2 L1875.0,842.3 L1878.0,843.4 L1881.0,844.5 L1884.0,845.6 L1887.0,846.6 L1890.0,847.7 L1893.0,848.7 L1896.0,849.7 L1899.0,850.8 L1902.0,851.8 L1905.0,852.8 L1908.0,853.8 L1911.0,854.8 L1914.0,855.8 L1917.0,856.8 L1920.0,857.8 L1923.0,858.8 L1926.0,859.8 L1929.0,860.8 L1932.0,861.8 L1935.0,862.9 L1938.0,863.9 L1941.0,864.9 L1944.0,866.0 L1947.0,867.1 L1950.0,868.1 L1953.0,869.2 L1956.0,870.3 L1959.0,871.5 L1962.0,872.6 L1965.0,873.8 L1968.0,874.9 L1971.0,876.1 L1974.0,877.4 L1977.0,878.6 L1980.0,879.9 L1983.0,881.2 L1986.0,882.5 L1988.0,883.4" stroke="#ff00ff" stroke-width="13"/>
<path d="M673.2,1050.0 L676.2,1044.2 L679.2,1038.5 L682.2,1032.8 L685.2,1027.3 L688.2,1021.8 L691.2,1016.4 L694.2,1011.1 L697.2,1005.9 L700.2,1000.8 L703.2,995.7 L706.2,990.7 L709.2,985.8 L712.2,981.0 L715.2,976.2 L718.2,971.5 L721.2,966.9 L724.2,962.4 L727.2,957.9 L730.2,953.5 L733.2,949.2 L736.2,945.0 L739.2,940.8 L742.2,936.7 L745.2,932.6 L748.2,928.7 L751.2,924.7 L754.2,920.9 L757.2,917.1 L760.2,913.4 L763.2,909.8 L766.2,906.2 L769.2,902.6 L772.2,899.2 L775.2,895.8 L778.2,892.4 L781.2,889.1 L784.2,885.9 L787.2,882.7 L790.2,879.6 L793.2,876.5 L796.2,873.5 L799.2,870.6 L802.2,867.7 L805.2,864.8 L808.2,862.0 L811.2,859.3 L814.2,856.6 L817.2,853.9 L820.2,851.3 L823.2,848.8 L826.2,846.3 L829.2,843.8 L832.2,841.4 L835.2,839.0 L838.2,836.7 L841.2,834.4 L844.2,832.2 L847.2,830.0 L850.2,827.8 L853.2,825.7 L856.2,823.6 L859.2,821.6 L862.2,819.6 L865.2,817.6 L868.2,815.7 L871.2,813.8 L874.2,811.9 L877.2,810.1 L880.2,808.3 L883.2,806.5 L886.2,804.7 L889.2,803.0 L892.2,801.4 L895.2,799.7 L898.2,798.1 L901.2,796.5 L904.2,794.9 L907.2,793.4 L910.2,791.8 L913.2,790.4 L916.2,788.9 L919.2,787.4 L922.2,786.0 L925.2,784.6 L928.2,783.2 L931.2,781.9 L934.2,780.5 L937.2,779.2 L940.2,777.9 L943.2,776.7 L946.2,775.4 L949.2,774.2 L952.2,773.0 L955.2,771.9 L958.2,770.7 L961.2,769.6 L964.2,768.5 L967.2,767.4 L970.2,766.3 L973.2,765.3 L976.2,764.3 L979.2,763.3 L982.2,762.3 L985.2,761.4 L988.2,760.5 L991.2,759.6 L994.2,758.7 L997.2,757.8 L1000.2,757.0 L1003.2,756.2 L1006.2,755.4 L1009.2,754.6 L1012.2,753.9 L1015.2,753.2 L1018.2,752.5 L1021.2,751.8 L1024.2,751.1 L1027.2,750.5 L1030.2,749.9 L1033.2,749.3 L1036.2,748.7 L1039.2,748.1 L1042.2,747.6 L1045.2,747.1 L1048.2,746.6 L1051.2,746.1 L1054.2,745.7 L1057.2,745.3 L1060.2,744.9 L1063.2,744.5 L1066.2,744.1 L1069.2,743.8 L1072.2,743.4 L1075.2,743.1 L1078.2,742.9 L1081.2,742.6 L1084.2,742.4 L1087.2,742.2 L1090.2,742.0 L1093.2,741.8 L1096.2,741.6 L1099.2,741.5 L1102.2,741.4 L1105.2,741.3 L1108.2,741.2 L1111.2,741.1 L1114.2,741.1 L1117.2,741.1 L1120.2,741.1 L1123.2,741.1 L1126.2,741.1 L1129.2,741.2 L1132.2,741.3 L1135.2,741.4 L1138.2,741.5 L1141.2,741.6 L1144.2,741.8 L1147.2,742.0 L1150.2,742.2 L1153.2,742.4 L1156.2,742.6 L1159.2,742.9 L1162.2,743.2 L1165.2,743.5 L1168.2,743.8 L1171.2,744.1 L1174.2,744.5 L1177.2,744.8 L1180.2,745.2 L1183.2,745.6 L1186.2,746.0 L1189.2,746.5 L1192.2,747.0 L1195.2,747.4 L1198.2,747.9 L1201.2,748.5 L1204.2,749.0 L1207.2,749.5 L1210.2,750.1 L1213.2,750.7 L1216.2,751.3 L1219.2,751.9 L1222.2,752.6 L1225.2,753.2 L1228.2,753.9 L1231.2,754.6 L1234.2,755.3 L1237.2,756.0 L1240.2,756.8 L1243.2,757.5 L1246.2,758.3 L1249.2,759.1 L1252.2,759.9 L1255.2,760.7 L1258.2,761.6 L1261.2,762.4 L1264.2,763.3 L1267.2,764.2 L1270.2,765.1 L1273.2,766.0 L1276.2,766.9 L1279.2,767.9 L1282.2,768.8 L1285.2,769.8 L1288.2,770.8 L1291.2,771.8 L1294.2,772.8 L1297.2,773.8 L1300.2,774.9 L1303.2,775.9 L1306.2,777.0 L1309.2,778.1 L1312.2,779.2 L1315.2,780.3 L1318.2,781.4 L1321.2,782.5 L1324.2,783.7 L1327.2,784.8 L1330.2,786.0 L1333.2,787.2 L1336.2,788.4 L1339.2,789.6 L1342.2,790.8 L1345.2,792.0 L1348.2,793.2 L1351.2,794.5 L1354.2,795.8 L1357.2,797.0 L1360.2,798.3 L1363.2,799.6 L1366.2,800.9 L1369.2,802.2 L1372.2,803.5 L1375.2,804.9 L1378.2,806.2 L1381.2,807.6 L1384.2,808.9 L1387.2,810.3 L1390.2,811.7 L1393.2,813.1 L1396.2,814.5 L1399.2,815.9 L1402.2,817.3 L1405.2,818.7 L1408.2,820.1 L1411.2,821.6 L1414.2,823.0 L1417.2,824.5 L1420.2,825.9 L1423.2,827.4 L1426.2,828.9 L1429.2,830.4 L1432.2,831.9 L1435.2,833.4 L1438.2,834.9 L1441.2,836.4 L1444.2,837.9 L1447.2,839.4 L1450.2,841.0 L1453.2,842.5 L1456.2,844.1 L1459.2,845.6 L1462.2,847.2 L1465.2,848.7 L1468.2,850.3 L1471.2,851.9 L1474.2,853.4 L1477.2,855.0 L1480.2,856.6 L1483.2,858.2 L1486.2,859.8 L1489.2,861.4 L1492.2,863.0 L1495.2,864.6 L1498.2,866.2 L1501.2,867.8 L1504.2,869.5 L1507.2,871.1 L1510.2,872.7 L1513.2,874.4 L1516.2,876.0 L1519.2,877.6 L1522.2,879.3 L1525.2,880.9 L1528.2,882.6 L1531.2,884.2 L1534.2,885.8 L1537.2,887.5 L1540.2,889.2 L1543.2,890.8 L1546.2,892.5 L1549.2,894.1 L1552.2,895.8 L1555.2,897.5 L1558.2,899.1 L1561.2,900.8 L1564.2,902.5 L1567.2,904.1 L1570.2,905.8 L1573.2,907.5 L1576.2,909.1 L1579.2,910.8 L1582.2,912.5 L1585.2,914.2 L1588.2,915.9 L1591.2,917.5 L1594.2,919.2 L1597.2,920.9 L1600.2,922.6 L1603.2,924.3 L1606.2,926.0 L1609.2,927.6 L1612.2,929.3 L1615.2,931.0 L1618.2,932.7 L1621.2,934.4 L1624.2,936.1 L1627.2,937.8 L1630.2,939.5 L1633.2,941.2 L1636.2,942.9 L1639.2,944.6 L1642.2,946.3 L1645.2,948.0 L1648.2,949.7 L1651.2,951.4 L1654.2,953.1 L1657.2,954.8 L1660.2,956.5 L1663.2,958.2 L1666.2,959.9 L1669.2,961.6 L1672.2,963.3 L1675.2,965.0 L1678.2,966.7 L1681.2,968.4 L1684.2,970.1 L1687.2,971.8 L1690.2,973.5 L1693.2,975.2 L1696.2,976.9 L1699.2,978.6 L1702.2,980.3 L1705.2,982.0 L1708.2,983.7 L1711.2,985.4 L1714.2,987.1 L1717.2,988.8 L1720.2,990.5 L1723.2,992.2 L1726.2,993.9 L1729.2,995.6 L1732.2,997.3 L1735.2,999.1 L1738.2,1000.8 L1741.2,1002.5 L1744.2,1004.2 L1747.2,1005.9 L1750.2,1007.6 L1753.2,1009.3 L1756.2,1011.0 L1759.2,1012.8 L1762.2,1014.5 L1765.2,1016.2 L1768.2,1018.0 L1771.2,1019.7 L1774.2,1021.4 L1777.2,1023.2 L1780.2,1024.9 L1783.2,1026.7 L1786.2,1028.5 L1789.2,1030.2 L1792.2,1032.0 L1795.2,1033.8 L1798.2,1035.6 L1801.2,1037.4 L1804.2,1039.2 L1807.2,1041.0 L1810.2,1042.8 L1813.2,1044.6 L1816.2,1046.4 L1819.2,1048.3 L1822.0,1050.0" stroke="#00ffff" stroke-width="13"/>
<path d="M360.5,1050.0 L363.5,1041.1 L366.5,1032.7 L369.5,1024.5 L372.5,1016.8 L375.5,1009.3 L378.5,1002.2 L381.5,995.5 L384.5,989.0 L387.5,982.8 L390.5,977.0 L393.5,971.4 L396.5,966.1 L399.5,961.0 L402.5,956.2 L405.5,951.7 L408.5,947.3 L411.5,943.2 L414.5,939.3 L417.5,935.6 L420.5,932.1 L423.5,928.8 L426.5,925.7 L429.5,922.7 L432.5,919.8 L435.5,917.1 L438.5,914.6 L441.5,912.1 L444.5,909.8 L447.5,907.6 L450.5,905.4 L453.5,903.4 L456.5,901.4 L459.5,899.4 L462.5,897.5 L465.5,895.7 L468.5,893.9 L471.5,892.2 L474.5,890.6 L477.5,889.0 L480.5,887.4 L483.5,885.9 L486.5,884.5 L489.5,883.1 L492.5,881.8 L495.5,880.6 L498.5,879.5 L501.5,878.4 L504.5,877.3 L507.5,876.4 L510.5,875.5 L513.5,874.7 L516.5,874.0 L519.5,873.4 L522.5,872.8 L525.5,872.3 L528.5,871.9 L531.5,871.6 L534.5,871.4 L537.5,871.2 L540.5,871.2 L543.5,871.2 L546.5,871.3 L549.5,871.6 L552.5,871.9 L555.5,872.3 L558.5,872.8 L561.5,873.4 L564.5,874.1 L567.5,875.0 L570.5,875.9 L573.5,876.9 L576.5,878.0 L579.5,879.2 L582.5,880.5 L585.5,882.0 L588.5,883.5 L591.5,885.1 L594.5,886.8 L597.5,888.6 L600.5,890.5 L603.5,892.5 L606.5,894.6 L609.5,896.8 L612.5,899.1 L615.5,901.5 L618.5,904.0 L621.5,906.6 L624.5,909.3 L627.5,912.1 L630.5,915.0 L633.5,918.0 L636.5,921.1 L639.5,924.2 L642.5,927.5 L645.5,930.9 L648.5,934.3 L651.5,937.9 L654.5,941.5 L657.5,945.3 L660.5,949.1 L663.5,953.0 L666.5,957.0 L669.5,961.2 L672.5,965.4 L675.5,969.7 L678.5,974.1 L681.5,978.6 L684.5,983.1 L687.5,987.8 L690.5,992.6 L693.5,997.4 L696.5,1002.4 L699.5,1007.4 L702.5,1012.5 L705.5,1017.8 L708.5,1023.1 L711.5,1028.5 L714.5,1034.0 L717.5,1039.5 L720.5,1045.2 L723.0,1050.0" stroke="#ffff00" stroke-width="13"/>
<path d="M780.2,1050.0 L783.2,1042.6 L786.2,1035.2 L789.2,1027.8 L792.2,1020.3 L795.2,1012.9 L798.2,1005.4 L801.2,997.9 L804.2,990.4 L807.2,982.9 L810.2,975.4 L813.2,967.9 L816.2,960.5 L819.2,953.0 L822.2,945.7 L825.2,938.3 L828.2,931.0 L831.2,923.8 L834.2,916.6 L837.2,909.5 L840.2,902.5 L843.2,895.5 L846.2,888.6 L849.2,881.8 L852.2,875.1 L855.2,868.6 L858.2,862.1 L861.2,855.7 L864.2,849.5 L867.2,843.4 L870.2,837.4 L873.2,831.6 L876.2,825.9 L879.2,820.3 L882.2,814.8 L885.2,809.5 L888.2,804.2 L891.2,799.1 L894.2,794.2 L897.2,789.3 L900.2,784.5 L903.2,779.8 L906.2,775.2 L909.2,770.6 L912.2,766.0 L915.2,761.4 L918.2,756.8 L921.2,752.2 L924.2,747.7 L927.2,743.1 L930.2,738.5 L933.2,734.0 L936.2,729.5 L939.2,725.1 L942.2,720.7 L945.2,716.3 L948.2,712.0 L951.2,707.8 L954.2,703.6 L957.2,699.5 L960.2,695.5 L963.2,691.5 L966.2,687.7 L969.2,683.9 L972.2,680.2 L975.2,676.7 L978.2,673.2 L981.2,669.8 L984.2,666.4 L987.2,663.2 L990.2,660.0 L993.2,656.9 L996.2,653.9 L999.2,650.9 L1002.2,648.1 L1005.2,645.3 L1008.2,642.5 L1011.2,639.8 L1014.2,637.2 L1017.2,634.6 L1020.2,632.1 L1023.2,629.6 L1026.2,627.2 L1029.2,624.9 L1032.2,622.6 L1035.2,620.3 L1038.2,618.1 L1041.2,615.9 L1044.2,613.7 L1047.2,611.6 L1050.2,609.5 L1053.2,607.5 L1056.2,605.5 L1059.2,603.5 L1062.2,601.5 L1065.2,599.6 L1068.2,597.6 L1071.2,595.8 L1074.2,593.9 L1077.2,592.1 L1080.2,590.3 L1083.2,588.5 L1086.2,586.7 L1089.2,585.0 L1092.2,583.3 L1095.2,581.6 L1098.2,580.0 L1101.2,578.4 L1104.2,576.8 L1107.2,575.2 L1110.2,573.7 L1113.2,572.1 L1116.2,570.7 L1119.2,569.2 L1122.2,567.7 L1125.2,566.3 L1128.2,564.9 L1131.2,563.6 L1134.2,562.2 L1137.2,560.9 L1140.2,559.6 L1143.2,558.3 L1146.2,557.1 L1149.2,555.8 L1152.2,554.6 L1155.2,553.4 L1158.2,552.3 L1161.2,551.2 L1164.2,550.1 L1167.2,549.0 L1170.2,547.9 L1173.2,546.9 L1176.2,545.9 L1179.2,544.9 L1182.2,543.9 L1185.2,543.0 L1188.2,542.0 L1191.2,541.1 L1194.2,540.3 L1197.2,539.4 L1200.2,538.6 L1203.2,537.8 L1206.2,537.0 L1209.2,536.3 L1212.2,535.5 L1215.2,534.8 L1218.2,534.1 L1221.2,533.5 L1224.2,532.8 L1227.2,532.2 L1230.2,531.6 L1233.2,531.0 L1236.2,530.5 L1239.2,530.0 L1242.2,529.5 L1245.2,529.0 L1248.2,528.5 L1251.2,528.1 L1254.2,527.7 L1257.2,527.3 L1260.2,526.9 L1263.2,526.6 L1266.2,526.2 L1269.2,525.9 L1272.2,525.7 L1275.2,525.4 L1278.2,525.2 L1281.2,525.0 L1284.2,524.8 L1287.2,524.6 L1290.2,524.5 L1293.2,524.4 L1296.2,524.3 L1299.2,524.2 L1302.2,524.1 L1305.2,524.1 L1308.2,524.1 L1311.2,524.1 L1314.2,524.1 L1317.2,524.2 L1320.2,524.3 L1323.2,524.4 L1326.2,524.5 L1329.2,524.7 L1332.2,524.8 L1335.2,525.0 L1338.2,525.2 L1341.2,525.5 L1344.2,525.7 L1347.2,526.0 L1350.2,526.3 L1353.2,526.6 L1356.2,527.0 L1359.2,527.3 L1362.2,527.7 L1365.2,528.1 L1368.2,528.6 L1371.2,529.0 L1374.2,529.5 L1377.2,530.0 L1380.2,530.5 L1383.2,531.0 L1386.2,531.6 L1389.2,532.2 L1392.2,532.8 L1395.2,533.4 L1398.2,534.1 L1401.2,534.7 L1404.2,535.4 L1407.2,536.1 L1410.2,536.9 L1413.2,537.6 L1416.2,538.4 L1419.2,539.2 L1422.2,540.0 L1425.2,540.9 L1428.2,541.8 L1431.2,542.6 L1434.2,543.6 L1437.2,544.5 L1440.2,545.4 L1443.2,546.4 L1446.2,547.4 L1449.2,548.4 L1452.2,549.5 L1455.2,550.5 L1458.2,551.6 L1461.2,552.7 L1464.2,553.8 L1467.2,555.0 L1470.2,556.1 L1473.2,557.3 L1476.2,558.5 L1479.2,559.8 L1482.2,561.0 L1485.2,562.3 L1488.2,563.6 L1491.2,564.9 L1494.2,566.2 L1497.2,567.6 L1500.2,569.0 L1503.2,570.4 L1506.2,571.8 L1509.2,573.3 L1512.2,574.7 L1515.2,576.2 L1518.2,577.7 L1521.2,579.3 L1524.2,580.9 L1527.2,582.4 L1530.2,584.0 L1533.2,585.7 L1536.2,587.3 L1539.2,589.0 L1542.2,590.7 L1545.2,592.5 L1548.2,594.2 L1551.2,596.0 L1554.2,597.8 L1557.2,599.6 L1560.2,601.5 L1563.2,603.3 L1566.2,605.3 L1569.2,607.2 L1572.2,609.1 L1575.2,611.1 L1578.2,613.1 L1581.2,615.1 L1584.2,617.2 L1587.2,619.3 L1590.2,621.4 L1593.2,623.5 L1596.2,625.7 L1599.2,627.9 L1602.2,630.1 L1605.2,632.3 L1608.2,634.6 L1611.2,636.9 L1614.2,639.2 L1617.2,641.5 L1620.2,643.9 L1623.2,646.3 L1626.2,648.8 L1629.2,651.2 L1632.2,653.7 L1635.2,656.2 L1638.2,658.8 L1641.2,661.3 L1644.2,663.9 L1647.2,666.6 L1650.2,669.2 L1653.2,671.9 L1656.2,674.6 L1659.2,677.4 L1662.2,680.1 L1665.2,682.9 L1668.2,685.8 L1671.2,688.6 L1674.2,691.5 L1677.2,694.4 L1680.2,697.4 L1683.2,700.3 L1686.2,703.3 L1689.2,706.4 L1692.2,709.4 L1695.2,712.5 L1698.2,715.6 L1701.2,718.7 L1704.2,721.9 L1707.2,725.1 L1710.2,728.3 L1713.2,731.5 L1716.2,734.7 L1719.2,738.0 L1722.2,741.3 L1725.2,744.7 L1728.2,748.0 L1731.2,751.4 L1734.2,754.8 L1737.2,758.2 L1740.2,761.7 L1743.2,765.1 L1746.2,768.6 L1749.2,772.1 L1752.2,775.7 L1755.2,779.2 L1758.2,782.8 L1761.2,786.4 L1764.2,790.0 L1767.2,793.7 L1770.2,797.3 L1773.2,801.0 L1776.2,804.7 L1779.2,808.5 L1782.2,812.2 L1785.2,816.0 L1788.2,819.7 L1791.2,823.5 L1794.2,827.4 L1797.2,831.2 L1800.2,835.1 L1803.2,838.9 L1806.2,842.8 L1809.2,846.8 L1812.2,850.7 L1815.2,854.6 L1818.2,858.6 L1821.2,862.6 L1824.2,866.6 L1827.2,870.6 L1830.2,874.6 L1833.2,878.7 L1836.2,882.7 L1839.2,886.8 L1842.2,890.9 L1845.2,895.0 L1848.2,899.1 L1851.2,903.2 L1854.2,907.3 L1857.2,911.4 L1860.2,915.5 L1863.2,919.6 L1866.2,923.7 L1869.2,927.7 L1872.2,931.8 L1875.2,935.8 L1878.2,939.8 L1881.2,943.8 L1884.2,947.8 L1887.2,951.7 L1890.2,955.6 L1893.2,959.4 L1896.2,963.2 L1899.2,967.0 L1902.2,970.7 L1905.2,974.4 L1908.2,978.0 L1911.2,981.6 L1914.2,985.1 L1917.2,988.5 L1920.2,991.9 L1923.2,995.2 L1926.2,998.4 L1929.2,1001.6 L1932.2,1004.7 L1935.2,1007.7 L1938.2,1010.7 L1941.2,1013.5 L1944.2,1016.3 L1947.2,1019.0 L1950.2,1021.6 L1953.2,1024.0 L1956.2,1026.4 L1959.2,1028.7 L1962.2,1030.9 L1965.2,1033.0 L1968.2,1035.0 L1971.2,1036.8 L1974.2,1038.6 L1977.2,1040.2 L1980.2,1041.7 L1983.2,1043.1 L1986.2,1044.3 L1988.0,1045.0" stroke="#ffff00" stroke-width="13"/>
<path d="M673.2,1050.0 L676.2,1044.2 L679.2,1038.5 L682.2,1032.8 L685.2,1027.3 L688.2,1021.8 L691.2,1016.4 L694.2,1011.1 L697.2,1005.9 L700.2,1000.8 L703.2,995.7 L706.2,990.7 L709.2,985.8 L712.2,981.0 L715.2,976.2 L718.2,971.5 L721.2,966.9 L724.2,962.4 L727.2,957.9 L730.2,953.5 L733.2,949.2 L736.2,945.0 L739.2,940.8 L742.2,936.7 L745.2,932.6 L748.2,928.7 L751.2,924.7 L754.2,920.9 L757.2,917.1 L760.2,913.4 L763.2,909.8 L766.2,906.2 L769.2,902.6 L772.2,899.2 L775.2,895.8 L778.2,892.4 L781.2,889.1 L784.2,885.9 L787.2,882.7 L790.2,879.6 L793.2,876.5 L796.2,873.5 L799.2,870.6 L802.2,867.7 L805.2,864.8 L808.2,862.0 L811.2,859.3 L814.2,856.6 L817.2,853.9 L820.2,851.3 L823.2,848.8 L826.2,846.3 L829.2,843.8 L832.2,841.4 L835.2,839.0 L838.2,836.7 L841.2,834.4 L844.2,832.2 L847.2,830.0 L850.2,827.8 L853.2,825.7 L856.2,823.6 L859.2,821.6 L862.2,819.6 L865.2,817.6 L868.2,815.7 L871.2,813.8 L874.2,811.9 L877.2,810.1 L880.2,808.3 L883.2,806.5 L886.2,804.7 L889.2,803.0 L892.2,801.4 L895.2,799.7 L898.2,798.1 L901.2,796.5 L904.2,794.9 L907.2,793.4 L910.2,791.8 L913.2,790.4 L916.2,788.9 L919.2,787.4 L922.2,786.0 L925.2,784.6 L928.2,783.2 L931.2,781.9 L934.2,780.5 L937.2,779.2 L940.2,777.9 L943.2,776.7 L946.2,775.4 L949.2,774.2 L952.2,773.0 L955.2,771.9 L958.2,770.7 L961.2,769.6 L964.2,768.5 L967.2,767.4 L970.2,766.3 L973.2,765.3 L976.2,764.3 L979.2,763.3 L982.2,762.3 L985.2,761.4 L988.2,760.5 L991.2,759.6 L994.2,758.7 L997.2,757.8 L1000.2,757.0 L1003.2,756.2 L1006.2,755.4 L1009.2,754.6 L1012.2,753.9 L1015.2,753.2 L1018.2,752.5 L1021.2,751.8 L1024.2,751.1 L1027.2,750.5 L1030.2,749.9 L1033.2,749.3 L1036.2,748.7 L1039.2,748.1 L1042.2,747.6 L1045.2,747.1 L1048.2,746.6 L1051.2,746.1 L1054.2,745.7 L1057.2,745.3 L1060.2,744.9 L1063.2,744.5 L1066.2,744.1 L1069.2,743.8 L1072.2,743.4 L1075.2,743.1 L1078.2,742.9 L1081.2,742.6 L1084.2,742.4 L1087.2,742.2 L1090.2,742.0 L1093.2,741.8 L1096.2,741.6 L1099.2,741.5 L1102.2,741.4 L1105.2,741.3 L1108.2,741.2 L1111.2,741.1 L1114.2,741.1 L1117.2,741.1 L1120.2,741.1 L1123.2,741.1 L1126.2,741.1 L1129.2,741.2 L1132.2,741.3 L1135.2,741.4 L1138.2,741.5 L1141.2,741.6 L1144.2,741.8 L1147.2,742.0 L1150.2,742.2 L1153.2,742.4 L1156.2,742.6 L1159.2,742.9 L1162.2,743.2 L1165.2,743.5 L1168.2,743.8 L1171.2,744.1 L1174.2,744.5 L1177.2,744.8 L1180.2,745.2 L1183.2,745.6 L1186.2,746.0 L1189.2,746.5 L1192.2,747.0 L1195.2,747.4 L1198.2,747.9 L1201.2,748.5 L1204.2,749.0 L1207.2,749.5 L1210.2,750.1 L1213.2,750.7 L1216.2,751.3 L1219.2,751.9 L1222.2,752.6 L1225.2,753.2 L1228.2,753.9 L1231.2,754.6 L1234.2,755.3 L1237.2,756.0 L1240.2,756.8 L1243.2,757.5 L1246.2,758.3 L1249.2,759.1 L1252.2,759.9 L1255.2,760.7 L1258.2,761.6 L1261.2,762.4 L1264.2,763.3 L1267.2,764.2 L1270.2,765.1 L1273.2,766.0 L1276.2,766.9 L1279.2,767.9 L1282.2,768.8 L1285.2,769.8 L1288.2,770.8 L1291.2,771.8 L1294.2,772.8 L1297.2,773.8 L1300.2,774.9 L1303.2,775.9 L1306.2,777.0 L1309.2,778.1 L1312.2,779.2 L1315.2,780.3 L1318.2,781.4 L1321.2,782.5 L1324.2,783.7 L1327.2,784.8 L1330.2,786.0 L1333.2,787.2 L1336.2,788.4 L1339.2,789.6 L1342.2,790.8 L1345.2,792.0 L1348.2,793.2 L1351.2,794.5 L1354.2,795.8 L1357.2,797.0 L1360.2,798.3 L1363.2,799.6 L1366.2,800.9 L1369.2,802.2 L1372.2,803.5 L1375.2,804.9 L1378.2,806.2 L1381.2,807.6 L1384.2,808.9 L1387.2,810.3 L1390.2,811.7 L1393.2,813.1 L1396.2,814.5 L1399.2,815.9 L1402.2,817.3 L1405.2,818.7 L1408.2,820.1 L1411.2,821.6 L1414.2,823.0 L1417.2,824.5 L1420.2,825.9 L1423.2,827.4 L1426.2,828.9 L1429.2,830.4 L1432.2,831.9 L1435.2,833.4 L1438.2,834.9 L1441.2,836.4 L1444.2,837.9 L1447.2,839.4 L1450.2,841.0 L1453.2,842.5 L1456.2,844.1 L1459.2,845.6 L1462.2,847.2 L1465.2,848.7 L1468.2,850.3 L1471.2,851.9 L1474.2,853.4 L1477.2,855.0 L1480.2,856.6 L1483.2,858.2 L1486.2,859.8 L1489.2,861.4 L1492.2,863.0 L1495.2,864.6 L1498.2,866.2 L1501.2,867.8 L1504.2,869.5 L1507.2,871.1 L1510.2,872.7 L1513.2,874.4 L1516.2,876.0 L1519.2,877.6 L1522.2,879.3 L1525.2,880.9 L1528.2,882.6 L1531.2,884.2 L1534.2,885.8 L1537.2,887.5 L1540.2,889.2 L1543.2,890.8 L1546.2,892.5 L1549.2,894.1 L1552.2,895.8 L1555.2,897.5 L1558.2,899.1 L1561.2,900.8 L1564.2,902.5 L1567.2,904.1 L1570.2,905.8 L1573.2,907.5 L1576.2,909.1 L1579.2,910.8 L1582.2,912.5 L1585.2,914.2 L1588.2,915.9 L1591.2,917.5 L1594.2,919.2 L1597.2,920.9 L1600.2,922.6 L1603.2,924.3 L1606.2,926.0 L1609.2,927.6 L1612.2,929.3 L1615.2,931.0 L1618.2,932.7 L1621.2,934.4 L1624.2,936.1 L1627.2,937.8 L1630.2,939.5 L1633.2,941.2 L1636.2,942.9 L1639.2,944.6 L1642.2,946.3 L1645.2,948.0 L1648.2,949.7 L1651.2,951.4 L1654.2,953.1 L1657.2,954.8 L1660.2,956.5 L1663.2,958.2 L1666.2,959.9 L1669.2,961.6 L1672.2,963.3 L1675.2,965.0 L1678.2,966.7 L1681.2,968.4 L1684.2,970.1 L1687.2,971.8 L1690.2,973.5 L1693.2,975.2 L1696.2,976.9 L1699.2,978.6 L1702.2,980.3 L1705.2,982.0 L1708.2,983.7 L1711.2,985.4 L1714.2,987.1 L1717.2,988.8 L1720.2,990.5 L1723.2,992.2 L1726.2,993.9 L1729.2,995.6 L1732.2,997.3 L1735.2,999.1 L1738.2,1000.8 L1741.2,1002.5 L1744.2,1004.2 L1747.2,1005.9 L1750.2,1007.6 L1753.2,1009.3 L1756.2,1011.0 L1759.2,1012.8 L1762.2,1014.5 L1765.2,1016.2 L1768.2,1018.0 L1771.2,1019.7 L1774.2,1021.4 L1777.2,1023.2 L1780.2,1024.9 L1783.2,1026.7 L1786.2,1028.5 L1789.2,1030.2 L1792.2,1032.0 L1795.2,1033.8 L1798.2,1035.6 L1801.2,1037.4 L1804.2,1039.2 L1807.2,1041.0 L1810.2,1042.8 L1813.2,1044.6 L1816.2,1046.4 L1819.2,1048.3 L1822.0,1050.0" stroke="#000000" stroke-width="13" stroke-dasharray="48 22"/>
<path d="M264.0,835.5 L267.0,831.9 L270.0,828.4 L273.0,825.1 L276.0,821.8 L279.0,818.6 L282.0,815.6 L285.0,812.6 L288.0,809.8 L291.0,807.0 L294.0,804.3 L297.0,801.8 L300.0,799.3 L303.0,796.9 L306.0,794.6 L309.0,792.4 L312.0,790.3 L315.0,788.3 L318.0,786.3 L321.0,784.5 L324.0,782.7 L327.0,781.0 L330.0,779.4 L333.0,777.9 L336.0,776.5 L339.0,775.1 L342.0,773.9 L345.0,772.7 L348.0,771.5 L351.0,770.5 L354.0,769.5 L357.0,768.6 L360.0,767.8 L363.0,767.1 L366.0,766.4 L369.0,765.8 L372.0,765.2 L375.0,764.7 L378.0,764.3 L381.0,764.0 L384.0,763.7 L387.0,763.5 L390.0,763.3 L393.0,763.2 L396.0,763.2 L399.0,763.2 L402.0,763.2 L405.0,763.4 L408.0,763.5 L411.0,763.8 L414.0,764.1 L417.0,764.4 L420.0,764.8 L423.0,765.3 L426.0,765.8 L429.0,766.4 L432.0,767.0 L435.0,767.7 L438.0,768.5 L441.0,769.3 L444.0,770.2 L447.0,771.2 L450.0,772.3 L453.0,773.4 L456.0,774.6 L459.0,775.9 L462.0,777.2 L465.0,778.7 L468.0,780.2 L471.0,781.7 L474.0,783.4 L477.0,785.2 L480.0,787.0 L483.0,788.9 L486.0,790.9 L489.0,793.1 L492.0,795.2 L495.0,797.5 L498.0,799.9 L501.0,802.4 L504.0,804.9 L507.0,807.6 L510.0,810.4 L513.0,813.2 L516.0,816.2 L519.0,819.3 L522.0,822.4 L525.0,825.7 L528.0,829.1 L531.0,832.6 L534.0,836.2 L537.0,839.9 L540.0,843.7 L543.0,847.7 L546.0,851.7 L549.0,855.9 L552.0,860.2 L555.0,864.7 L558.0,869.2 L561.0,873.9 L564.0,878.7 L567.0,883.7 L570.0,888.7 L573.0,894.0 L576.0,899.3 L579.0,904.8 L582.0,910.5 L585.0,916.3 L588.0,922.3 L591.0,928.4 L594.0,934.7 L597.0,941.1 L600.0,947.6 L603.0,954.2 L606.0,960.8 L609.0,967.4 L612.0,973.8 L615.0,980.1 L618.0,986.1 L621.0,991.9 L624.0,997.4 L627.0,1002.4 L630.0,1007.1 L633.0,1011.2 L636.0,1014.8 L639.0,1018.0 L642.0,1020.5 L645.0,1022.5 L648.0,1024.0 L651.0,1024.8 L654.0,1025.0 L657.0,1024.5 L660.0,1023.4 L663.0,1021.6 L666.0,1019.0 L669.0,1015.8 L672.0,1011.9 L675.0,1007.3 L678.0,1002.2 L681.0,996.6 L684.0,990.5 L687.0,984.0 L690.0,977.2 L693.0,970.1 L696.0,962.7 L699.0,955.2 L702.0,947.4 L705.0,939.4 L708.0,931.3 L711.0,923.0 L714.0,914.7 L717.0,906.3 L720.0,897.9 L723.0,889.4 L726.0,881.0 L729.0,872.6 L732.0,864.2 L735.0,856.0 L738.0,847.9 L741.0,839.9 L744.0,832.1 L747.0,824.5 L750.0,817.2 L753.0,810.0 L756.0,803.2 L759.0,796.6 L762.0,790.3 L765.0,784.2 L768.0,778.2 L771.0,772.5 L774.0,766.8 L777.0,761.3 L780.0,755.9 L783.0,750.5 L786.0,745.2 L789.0,739.9 L792.0,734.7 L795.0,729.6 L798.0,724.6 L801.0,719.6 L804.0,714.7 L807.0,709.8 L810.0,705.1 L813.0,700.4 L816.0,695.8 L819.0,691.3 L822.0,686.8 L825.0,682.5 L828.0,678.2 L831.0,673.9 L834.0,669.8 L837.0,665.7 L840.0,661.7 L843.0,657.8 L846.0,653.9 L849.0,650.1 L852.0,646.4 L855.0,642.7 L858.0,639.1 L861.0,635.6 L864.0,632.1 L867.0,628.7 L870.0,625.4 L873.0,622.1 L876.0,618.8 L879.0,615.7 L882.0,612.6 L885.0,609.5 L888.0,606.5 L891.0,603.5 L894.0,600.6 L897.0,597.8 L900.0,595.0 L903.0,592.3 L906.0,589.6 L909.0,586.9 L912.0,584.3 L915.0,581.7 L918.0,579.2 L921.0,576.8 L924.0,574.3 L927.0,572.0 L930.0,569.6 L933.0,567.3 L936.0,565.0 L939.0,562.8 L942.0,560.6 L945.0,558.5 L948.0,556.3 L951.0,554.3 L954.0,552.2 L957.0,550.2 L960.0,548.3 L963.0,546.3 L966.0,544.4 L969.0,542.6 L972.0,540.7 L975.0,538.9 L978.0,537.2 L981.0,535.4 L984.0,533.7 L987.0,532.1 L990.0,530.4 L993.0,528.8 L996.0,527.3 L999.0,525.7 L1002.0,524.2 L1005.0,522.8 L1008.0,521.3 L1011.0,519.9 L1014.0,518.5 L1017.0,517.2 L1020.0,515.9 L1023.0,514.6 L1026.0,513.3 L1029.0,512.1 L1032.0,510.9 L1035.0,509.7 L1038.0,508.5 L1041.0,507.4 L1044.0,506.3 L1047.0,505.2 L1050.0,504.2 L1053.0,503.2 L1056.0,502.2 L1059.0,501.2 L1062.0,500.3 L1065.0,499.4 L1068.0,498.5 L1071.0,497.6 L1074.0,496.7 L1077.0,495.9 L1080.0,495.1 L1083.0,494.3 L1086.0,493.6 L1089.0,492.9 L1092.0,492.1 L1095.0,491.5 L1098.0,490.8 L1101.0,490.1 L1104.0,489.5 L1107.0,488.9 L1110.0,488.3 L1113.0,487.8 L1116.0,487.2 L1119.0,486.7 L1122.0,486.2 L1125.0,485.7 L1128.0,485.3 L1131.0,484.8 L1134.0,484.4 L1137.0,484.0 L1140.0,483.6 L1143.0,483.3 L1146.0,483.0 L1149.0,482.7 L1152.0,482.4 L1155.0,482.1 L1158.0,481.9 L1161.0,481.6 L1164.0,481.4 L1167.0,481.3 L1170.0,481.1 L1173.0,481.0 L1176.0,480.8 L1179.0,480.7 L1182.0,480.7 L1185.0,480.6 L1188.0,480.6 L1191.0,480.6 L1194.0,480.6 L1197.0,480.6 L1200.0,480.7 L1203.0,480.8 L1206.0,480.9 L1209.0,481.0 L1212.0,481.1 L1215.0,481.3 L1218.0,481.5 L1221.0,481.7 L1224.0,481.9 L1227.0,482.1 L1230.0,482.4 L1233.0,482.7 L1236.0,483.0 L1239.0,483.3 L1242.0,483.7 L1245.0,484.1 L1248.0,484.5 L1251.0,484.9 L1254.0,485.3 L1257.0,485.8 L1260.0,486.3 L1263.0,486.8 L1266.0,487.3 L1269.0,487.9 L1272.0,488.5 L1275.0,489.1 L1278.0,489.7 L1281.0,490.3 L1284.0,491.0 L1287.0,491.6 L1290.0,492.4 L1293.0,493.1 L1296.0,493.8 L1299.0,494.6 L1302.0,495.4 L1305.0,496.2 L1308.0,497.0 L1311.0,497.9 L1314.0,498.8 L1317.0,499.7 L1320.0,500.6 L1323.0,501.5 L1326.0,502.5 L1329.0,503.5 L1332.0,504.5 L1335.0,505.5 L1338.0,506.6 L1341.0,507.7 L1344.0,508.8 L1347.0,509.9 L1350.0,511.0 L1353.0,512.2 L1356.0,513.4 L1359.0,514.6 L1362.0,515.8 L1365.0,517.1 L1368.0,518.3 L1371.0,519.6 L1374.0,521.0 L1377.0,522.3 L1380.0,523.7 L1383.0,525.0 L1386.0,526.4 L1389.0,527.9 L1392.0,529.3 L1395.0,530.8 L1398.0,532.3 L1401.0,533.8 L1404.0,535.4 L1407.0,536.9 L1410.0,538.5 L1413.0,540.1 L1416.0,541.7 L1419.0,543.4 L1422.0,545.0 L1425.0,546.7 L1428.0,548.4 L1431.0,550.1 L1434.0,551.9 L1437.0,553.6 L1440.0,555.4 L1443.0,557.2 L1446.0,559.0 L1449.0,560.8 L1452.0,562.7 L1455.0,564.5 L1458.0,566.4 L1461.0,568.3 L1464.0,570.2 L1467.0,572.1 L1470.0,574.1 L1473.0,576.0 L1476.0,578.0 L1479.0,580.0 L1482.0,582.0 L1485.0,584.0 L1488.0,586.0 L1491.0,588.0 L1494.0,590.1 L1497.0,592.1 L1500.0,594.2 L1503.0,596.3 L1506.0,598.4 L1509.0,600.5 L1512.0,602.6 L1515.0,604.7 L1518.0,606.8 L1521.0,609.0 L1524.0,611.1 L1527.0,613.3 L1530.0,615.5 L1533.0,617.7 L1536.0,619.8 L1539.0,622.0 L1542.0,624.2 L1545.0,626.5 L1548.0,628.7 L1551.0,630.9 L1554.0,633.1 L1557.0,635.4 L1560.0,637.6 L1563.0,639.9 L1566.0,642.1 L1569.0,644.4 L1572.0,646.6 L1575.0,648.9 L1578.0,651.2 L1581.0,653.4 L1584.0,655.7 L1587.0,658.0 L1590.0,660.3 L1593.0,662.6 L1596.0,664.9 L1599.0,667.1 L1602.0,669.4 L1605.0,671.7 L1608.0,674.0 L1611.0,676.3 L1614.0,678.6 L1617.0,680.9 L1620.0,683.2 L1623.0,685.5 L1626.0,687.8 L1629.0,690.1 L1632.0,692.4 L1635.0,694.6 L1638.0,696.9 L1641.0,699.2 L1644.0,701.5 L1647.0,703.8 L1650.0,706.0 L1653.0,708.3 L1656.0,710.6 L1659.0,712.8 L1662.0,715.1 L1665.0,717.3 L1668.0,719.6 L1671.0,721.8 L1674.0,724.1 L1677.0,726.3 L1680.0,728.5 L1683.0,730.7 L1686.0,732.9 L1689.0,735.1 L1692.0,737.3 L1695.0,739.5 L1698.0,741.7 L1701.0,743.8 L1704.0,746.0 L1707.0,748.1 L1710.0,750.3 L1713.0,752.4 L1716.0,754.5 L1719.0,756.6 L1722.0,758.7 L1725.0,760.8 L1728.0,762.9 L1731.0,764.9 L1734.0,767.0 L1737.0,769.0 L1740.0,771.0 L1743.0,773.0 L1746.0,775.0 L1749.0,777.0 L1752.0,778.9 L1755.0,780.9 L1758.0,782.8 L1761.0,784.7 L1764.0,786.6 L1767.0,788.5 L1770.0,790.4 L1773.0,792.2 L1776.0,794.0 L1779.0,795.8 L1782.0,797.6 L1785.0,799.4 L1788.0,801.1 L1791.0,802.9 L1794.0,804.6 L1797.0,806.3 L1800.0,808.0 L1803.0,809.6 L1806.0,811.2 L1809.0,812.9 L1812.0,814.4 L1815.0,816.0 L1818.0,817.6 L1821.0,819.1 L1824.0,820.6 L1827.0,822.0 L1830.0,823.5 L1833.0,824.9 L1836.0,826.3 L1839.0,827.7 L1842.0,829.0 L1845.0,830.4 L1848.0,831.7 L1851.0,832.9 L1854.0,834.2 L1857.0,835.4 L1860.0,836.6 L1863.0,837.8 L1866.0,839.0 L1869.0,840.1 L1872.0,841.2 L1875.0,842.3 L1878.0,843.4 L1881.0,844.5 L1884.0,845.6 L1887.0,846.6 L1890.0,847.7 L1893.0,848.7 L1896.0,849.7 L1899.0,850.8 L1902.0,851.8 L1905.0,852.8 L1908.0,853.8 L1911.0,854.8 L1914.0,855.8 L1917.0,856.8 L1920.0,857.8 L1923.0,858.8 L1926.0,859.8 L1929.0,860.8 L1932.0,861.8 L1935.0,862.9 L1938.0,863.9 L1941.0,864.9 L1944.0,866.0 L1947.0,867.1 L1950.0,868.1 L1953.0,869.2 L1956.0,870.3 L1959.0,871.5 L1962.0,872.6 L1965.0,873.8 L1968.0,874.9 L1971.0,876.1 L1974.0,877.4 L1977.0,878.6 L1980.0,879.9 L1983.0,881.2 L1986.0,882.5 L1988.0,883.4" stroke="#00ff00" stroke-width="13" stroke-dasharray="48 22"/>
</g>
<path d="M263.4,388 H1988" stroke="#000" stroke-width="6" stroke-dasharray="47.2 22.7" fill="none"/>
<g stroke="#000" fill="none">
<path d="M264,146 V1052" stroke-width="4"/><path d="M1988,146 V1052" stroke-width="4"/>
<path d="M262,147.5 H1990" stroke-width="3.4"/><path d="M262,1050 H1990" stroke-width="4"/>
<path d="M455.6,1050 V1031 M455.6,147.5 V166 M647.1,1050 V1031 M647.1,147.5 V166 M838.7,1050 V1031 M838.7,147.5 V166 M1030.2,1050 V1031 M1030.2,147.5 V166 M1221.8,1050 V1031 M1221.8,147.5 V166 M1413.3,1050 V1031 M1413.3,147.5 V166 M1604.9,1050 V1031 M1604.9,147.5 V166 M1796.4,1050 V1031 M1796.4,147.5 V166 M264,899.6 H283 M1988,899.6 H1969 M264,749.2 H283 M1988,749.2 H1969 M264,598.8 H283 M1988,598.8 H1969 M264,448.3 H283 M1988,448.3 H1969 M264,297.9 H283 M1988,297.9 H1969" stroke-width="3.8"/>
</g>
<text transform="translate(763.0,80.0) scale(0.977,1)" font-size="60" text-anchor="start">Embedded Element [Tab. II]</text>
<text transform="translate(271.8,1128.0) scale(0.977,1)" font-size="60" text-anchor="middle">23</text>
<text transform="translate(463.4,1128.0) scale(0.977,1)" font-size="60" text-anchor="middle">24</text>
<text transform="translate(654.9,1128.0) scale(0.977,1)" font-size="60" text-anchor="middle">25</text>
<text transform="translate(846.5,1128.0) scale(0.977,1)" font-size="60" text-anchor="middle">26</text>
<text transform="translate(1038.0,1128.0) scale(0.977,1)" font-size="60" text-anchor="middle">27</text>
<text transform="translate(1229.6,1128.0) scale(0.977,1)" font-size="60" text-anchor="middle">28</text>
<text transform="translate(1421.1,1128.0) scale(0.977,1)" font-size="60" text-anchor="middle">29</text>
<text transform="translate(1612.7,1128.0) scale(0.977,1)" font-size="60" text-anchor="middle">30</text>
<text transform="translate(1804.2,1128.0) scale(0.977,1)" font-size="60" text-anchor="middle">31</text>
<text transform="translate(1995.8,1128.0) scale(0.977,1)" font-size="60" text-anchor="middle">32</text>
<text transform="translate(143.2,1069.5) scale(0.977,1)" font-size="60" text-anchor="start">-40</text>
<text transform="translate(143.2,919.1) scale(0.977,1)" font-size="60" text-anchor="start">-35</text>
<text transform="translate(143.2,768.7) scale(0.977,1)" font-size="60" text-anchor="start">-30</text>
<text transform="translate(143.2,618.2) scale(0.977,1)" font-size="60" text-anchor="start">-25</text>
<text transform="translate(143.2,467.8) scale(0.977,1)" font-size="60" text-anchor="start">-20</text>
<text transform="translate(143.2,317.4) scale(0.977,1)" font-size="60" text-anchor="start">-15</text>
<text transform="translate(143.2,167.0) scale(0.977,1)" font-size="60" text-anchor="start">-10</text>
<text transform="translate(881.3,1214.0) scale(0.977,1)" font-size="60" text-anchor="start">Frequency, f [GHz]</text>
<text transform="translate(74.6,1040) rotate(-90) scale(0.974,1)" font-size="60">Scattering Coefficient, |S<tspan font-size="48" dy="17">n1</tspan><tspan dy="-17">(f)| [dB]</tspan></text>
<text transform="translate(249.1,1327) scale(0.977,1)" font-size="60">|S<tspan font-size="48" dy="16.6">21</tspan><tspan dy="-16.6">(f)|</tspan></text>
<path d="M460,1313.0 h159.5" stroke="#ff0000" stroke-width="12.5" fill="none"/>
<text transform="translate(249.1,1400) scale(0.977,1)" font-size="60">|S<tspan font-size="48" dy="16.6">31</tspan><tspan dy="-16.6">(f)|</tspan></text>
<path d="M460,1385.5 h159.5" stroke="#ffa500" stroke-width="12.5" fill="none"/>
<text transform="translate(721.9,1327) scale(0.977,1)" font-size="60">|S<tspan font-size="48" dy="16.6">41</tspan><tspan dy="-16.6">(f)|</tspan></text>
<path d="M932,1313.0 h159.5" stroke="#0000ff" stroke-width="12.5" stroke-dasharray="48 22" fill="none"/>
<text transform="translate(721.9,1400) scale(0.977,1)" font-size="60">|S<tspan font-size="48" dy="16.6">51</tspan><tspan dy="-16.6">(f)|</tspan></text>
<path d="M932,1385.5 h159.5" stroke="#ff00ff" stroke-width="12.5" fill="none"/>
<text transform="translate(1193.9,1327) scale(0.977,1)" font-size="60">|S<tspan font-size="48" dy="16.6">61</tspan><tspan dy="-16.6">(f)|</tspan></text>
<path d="M1405,1313.0 h159.5" stroke="#00ffff" stroke-width="12.5" fill="none"/>
<text transform="translate(1193.9,1400) scale(0.977,1)" font-size="60">|S<tspan font-size="48" dy="16.6">71</tspan><tspan dy="-16.6">(f)|</tspan></text>
<path d="M1405,1385.5 h159.5" stroke="#ffff00" stroke-width="12.5" fill="none"/>
<text transform="translate(1667.0,1327) scale(0.977,1)" font-size="60">|S<tspan font-size="48" dy="16.6">81</tspan><tspan dy="-16.6">(f)|</tspan></text>
<path d="M1877,1313.0 h159.5" stroke="#000000" stroke-width="12.5" stroke-dasharray="48 22" fill="none"/>
<text transform="translate(1667.0,1400) scale(0.977,1)" font-size="60">|S<tspan font-size="48" dy="16.6">91</tspan><tspan dy="-16.6">(f)|</tspan></text>
<path d="M1877,1385.5 h159.5" stroke="#00ff00" stroke-width="12.5" stroke-dasharray="48 22" fill="none"/>
</svg></body></html>
